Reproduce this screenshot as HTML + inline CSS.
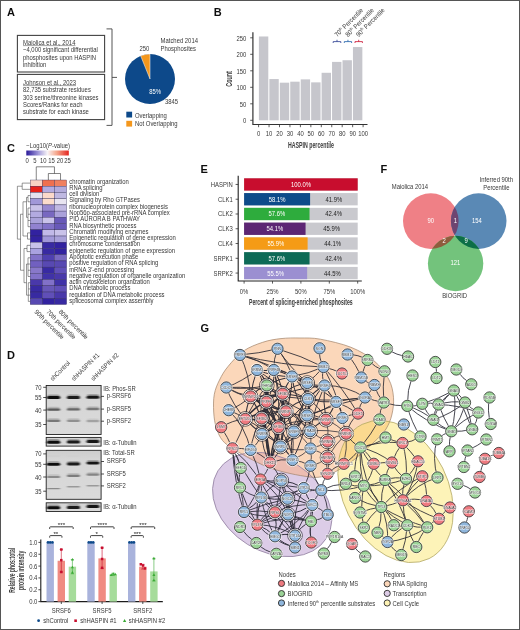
<!DOCTYPE html>
<html><head><meta charset="utf-8"><title>Figure</title>
<style>
html,body{margin:0;padding:0;background:#fff;}
body{width:520px;height:630px;overflow:hidden;font-family:"Liberation Sans",sans-serif;}
svg{display:block;font-family:"Liberation Sans",sans-serif;}
</style></head><body>
<svg width="520" height="630" viewBox="0 0 520 630" font-family="Liberation Sans, sans-serif">
<rect x="0" y="0" width="520" height="630" fill="#fff"/>
<defs><filter id="soft" x="0" y="0" width="520" height="630" filterUnits="userSpaceOnUse"><feGaussianBlur stdDeviation="0.32"/></filter></defs>
<g filter="url(#soft)">
<text transform="translate(7 15.8)" font-size="11" font-weight="bold" fill="#111">A</text>
<rect x="17.4" y="35.4" width="87.2" height="36.6" fill="#fff" stroke="#444" stroke-width="1.1"/>
<rect x="17.4" y="74.4" width="87.2" height="45.2" fill="#fff" stroke="#444" stroke-width="1.1"/>
<text transform="translate(23 45.0) scale(0.8950 1)" font-size="6.6" fill="#383838">Maiolica et al., 2014</text>
<text transform="translate(23 52.3) scale(0.8950 1)" font-size="6.6" fill="#383838">~4,000 significant differential</text>
<text transform="translate(23 59.5) scale(0.8950 1)" font-size="6.6" fill="#383838">phosphosites upon HASPIN</text>
<text transform="translate(23 66.8) scale(0.8950 1)" font-size="6.6" fill="#383838">inhibition</text>
<line x1="23" y1="45.6" x2="75.5" y2="45.6" stroke="#333" stroke-width="0.45"/>
<text transform="translate(23 85.0) scale(0.8950 1)" font-size="6.6" fill="#383838">Johnson et al., 2023</text>
<text transform="translate(23 92.3) scale(0.8950 1)" font-size="6.6" fill="#383838">82,735 substrate residues</text>
<text transform="translate(23 99.5) scale(0.8950 1)" font-size="6.6" fill="#383838">303 serine/threonine kinases</text>
<text transform="translate(23 106.8) scale(0.8950 1)" font-size="6.6" fill="#383838">Scores/Ranks for each</text>
<text transform="translate(23 114.2) scale(0.8950 1)" font-size="6.6" fill="#383838">substrate for each kinase</text>
<line x1="23" y1="85.6" x2="76" y2="85.6" stroke="#333" stroke-width="0.45"/>
<path d="M106.5 28.9 H112 V125.4 H106.5 M112 77.4 H117" fill="none" stroke="#444" stroke-width="0.9"/>
<circle cx="150" cy="79" r="25" fill="#0d4a8a"/>
<path d="M150 79 L140.63 55.82 A25 25 0 0 1 150 54 Z" fill="#f4971f" stroke="#fff" stroke-width="0.5"/>
<text transform="translate(139.5 51.2) scale(0.8950 1)" font-size="6.6" fill="#383838">250</text>
<text transform="translate(160.6 43.0) scale(0.8950 1)" font-size="6.6" fill="#383838">Matched 2014</text>
<text transform="translate(160.6 50.5) scale(0.8950 1)" font-size="6.6" fill="#383838">Phosphosites</text>
<text transform="translate(149.3 93.6) scale(0.8950 1)" font-size="6.6" fill="#fff">85%</text>
<text transform="translate(165 104.1) scale(0.8950 1)" font-size="6.6" fill="#383838">3845</text>
<rect x="126.3" y="111.7" width="5.8" height="5.8" fill="#0d4a8a"/>
<rect x="126.3" y="120.8" width="5.8" height="5.8" fill="#f4971f"/>
<text transform="translate(135 117.6) scale(0.8950 1)" font-size="6.6" fill="#383838">Overlapping</text>
<text transform="translate(135 126.3) scale(0.8950 1)" font-size="6.6" fill="#383838">Not Overlapping</text>
<text transform="translate(213.7 15.8)" font-size="11" font-weight="bold" fill="#111">B</text>
<rect x="258.90" y="36.48" width="9.4" height="83.82" fill="#c6c6cc"/>
<rect x="269.35" y="79.05" width="9.4" height="41.25" fill="#c6c6cc"/>
<rect x="279.80" y="82.68" width="9.4" height="37.62" fill="#c6c6cc"/>
<rect x="290.25" y="81.69" width="9.4" height="38.61" fill="#c6c6cc"/>
<rect x="300.70" y="79.38" width="9.4" height="40.92" fill="#c6c6cc"/>
<rect x="311.15" y="82.35" width="9.4" height="37.95" fill="#c6c6cc"/>
<rect x="321.60" y="72.78" width="9.4" height="47.52" fill="#c6c6cc"/>
<rect x="332.05" y="61.89" width="9.4" height="58.41" fill="#c6c6cc"/>
<rect x="342.50" y="60.24" width="9.4" height="60.06" fill="#c6c6cc"/>
<rect x="352.95" y="47.04" width="9.4" height="73.26" fill="#c6c6cc"/>
<path d="M252.9 32.2 V124.5 H367.5" fill="none" stroke="#333" stroke-width="1.2"/>
<line x1="250.2" y1="120.30" x2="252.9" y2="120.30" stroke="#333" stroke-width="0.8"/>
<text transform="translate(246.4 123.3) scale(0.8950 1)" font-size="6.6" text-anchor="end" fill="#383838">0</text>
<line x1="250.2" y1="103.80" x2="252.9" y2="103.80" stroke="#333" stroke-width="0.8"/>
<text transform="translate(246.4 106.8) scale(0.8950 1)" font-size="6.6" text-anchor="end" fill="#383838">50</text>
<line x1="250.2" y1="87.30" x2="252.9" y2="87.30" stroke="#333" stroke-width="0.8"/>
<text transform="translate(246.4 90.3) scale(0.8950 1)" font-size="6.6" text-anchor="end" fill="#383838">100</text>
<line x1="250.2" y1="70.80" x2="252.9" y2="70.80" stroke="#333" stroke-width="0.8"/>
<text transform="translate(246.4 73.8) scale(0.8950 1)" font-size="6.6" text-anchor="end" fill="#383838">150</text>
<line x1="250.2" y1="54.30" x2="252.9" y2="54.30" stroke="#333" stroke-width="0.8"/>
<text transform="translate(246.4 57.3) scale(0.8950 1)" font-size="6.6" text-anchor="end" fill="#383838">200</text>
<line x1="250.2" y1="37.80" x2="252.9" y2="37.80" stroke="#333" stroke-width="0.8"/>
<text transform="translate(246.4 40.8) scale(0.8950 1)" font-size="6.6" text-anchor="end" fill="#383838">250</text>
<line x1="258.60" y1="124.5" x2="258.60" y2="127.2" stroke="#333" stroke-width="0.8"/>
<text transform="translate(258.6 136.4) scale(0.8950 1)" font-size="6.6" text-anchor="middle" fill="#383838">0</text>
<line x1="269.05" y1="124.5" x2="269.05" y2="127.2" stroke="#333" stroke-width="0.8"/>
<text transform="translate(269.05 136.4) scale(0.8950 1)" font-size="6.6" text-anchor="middle" fill="#383838">10</text>
<line x1="279.50" y1="124.5" x2="279.50" y2="127.2" stroke="#333" stroke-width="0.8"/>
<text transform="translate(279.5 136.4) scale(0.8950 1)" font-size="6.6" text-anchor="middle" fill="#383838">20</text>
<line x1="289.95" y1="124.5" x2="289.95" y2="127.2" stroke="#333" stroke-width="0.8"/>
<text transform="translate(289.95 136.4) scale(0.8950 1)" font-size="6.6" text-anchor="middle" fill="#383838">30</text>
<line x1="300.40" y1="124.5" x2="300.40" y2="127.2" stroke="#333" stroke-width="0.8"/>
<text transform="translate(300.4 136.4) scale(0.8950 1)" font-size="6.6" text-anchor="middle" fill="#383838">40</text>
<line x1="310.85" y1="124.5" x2="310.85" y2="127.2" stroke="#333" stroke-width="0.8"/>
<text transform="translate(310.85 136.4) scale(0.8950 1)" font-size="6.6" text-anchor="middle" fill="#383838">50</text>
<line x1="321.30" y1="124.5" x2="321.30" y2="127.2" stroke="#333" stroke-width="0.8"/>
<text transform="translate(321.3 136.4) scale(0.8950 1)" font-size="6.6" text-anchor="middle" fill="#383838">60</text>
<line x1="331.75" y1="124.5" x2="331.75" y2="127.2" stroke="#333" stroke-width="0.8"/>
<text transform="translate(331.75 136.4) scale(0.8950 1)" font-size="6.6" text-anchor="middle" fill="#383838">70</text>
<line x1="342.20" y1="124.5" x2="342.20" y2="127.2" stroke="#333" stroke-width="0.8"/>
<text transform="translate(342.2 136.4) scale(0.8950 1)" font-size="6.6" text-anchor="middle" fill="#383838">80</text>
<line x1="352.65" y1="124.5" x2="352.65" y2="127.2" stroke="#333" stroke-width="0.8"/>
<text transform="translate(352.65 136.4) scale(0.8950 1)" font-size="6.6" text-anchor="middle" fill="#383838">90</text>
<line x1="363.10" y1="124.5" x2="363.10" y2="127.2" stroke="#333" stroke-width="0.8"/>
<text transform="translate(363.1 136.4) scale(0.8950 1)" font-size="6.6" text-anchor="middle" fill="#383838">100</text>
<text transform="translate(311 148) scale(0.6389 1)" font-size="8.2" text-anchor="middle" font-weight="bold" fill="#3a3a3a">HASPIN percentile</text>
<text transform="translate(232.2 79) rotate(-90) scale(0.6546 1)" font-size="8.2" text-anchor="middle" font-weight="bold" fill="#3a3a3a">Count</text>
<path d="M333.2 43 V41.6 H340.8 V43 M337.0 41.6 V39.8" fill="none" stroke="#2b3a8f" stroke-width="0.8"/>
<path d="M344.3 43 V41.6 H351.6 V43 M347.95000000000005 41.6 V39.8" fill="none" stroke="#1f5fa8" stroke-width="0.8"/>
<path d="M355 43 V41.6 H362.4 V43 M358.7 41.6 V39.8" fill="none" stroke="#c8102e" stroke-width="0.8"/>
<text transform="translate(337.2 37.2) rotate(-45) scale(0.8950 1)" font-size="6.6" fill="#383838">70<tspan font-size="4" dy="-2.4">th</tspan><tspan dy="2.4"> Percentile</tspan></text>
<text transform="translate(348 37.2) rotate(-45) scale(0.8950 1)" font-size="6.6" fill="#383838">80<tspan font-size="4" dy="-2.4">th</tspan><tspan dy="2.4"> Percentile</tspan></text>
<text transform="translate(358.7 37.2) rotate(-45) scale(0.8950 1)" font-size="6.6" fill="#383838">90<tspan font-size="4" dy="-2.4">th</tspan><tspan dy="2.4"> Percentile</tspan></text>
<text transform="translate(7 151.7)" font-size="11" font-weight="bold" fill="#111">C</text>
<defs><linearGradient id="cb" x1="0" x2="1" y1="0" y2="0"><stop offset="0" stop-color="#2a1a9a"/><stop offset="0.3" stop-color="#a8a0dc"/><stop offset="0.5" stop-color="#f7f3f6"/><stop offset="0.72" stop-color="#f5a58a"/><stop offset="1" stop-color="#e52420"/></linearGradient></defs>
<text transform="translate(26.2 148.0) scale(0.8950 1)" font-size="6.6" fill="#383838">−Log10(<tspan font-style="italic">P</tspan>-value)</text>
<rect x="26.3" y="150.5" width="42.5" height="5" fill="url(#cb)"/>
<text transform="translate(27.2 163.1) scale(0.8950 1)" font-size="6.6" text-anchor="middle" fill="#383838">0</text>
<text transform="translate(35 163.1) scale(0.8950 1)" font-size="6.6" text-anchor="middle" fill="#383838">5</text>
<text transform="translate(43.2 163.1) scale(0.8950 1)" font-size="6.6" text-anchor="middle" fill="#383838">10</text>
<text transform="translate(51.6 163.1) scale(0.8950 1)" font-size="6.6" text-anchor="middle" fill="#383838">15</text>
<text transform="translate(60 163.1) scale(0.8950 1)" font-size="6.6" text-anchor="middle" fill="#383838">20</text>
<text transform="translate(67.6 163.1) scale(0.8950 1)" font-size="6.6" text-anchor="middle" fill="#383838">25</text>
<rect x="30.20" y="180.00" width="12.13" height="6.22" fill="#f9d3c4" stroke="#2a2450" stroke-width="0.35"/>
<rect x="42.33" y="180.00" width="12.13" height="6.22" fill="#f0704f" stroke="#2a2450" stroke-width="0.35"/>
<rect x="54.46" y="180.00" width="12.13" height="6.22" fill="#f0805f" stroke="#2a2450" stroke-width="0.35"/>
<text transform="translate(69.2 183.6) scale(0.8950 1)" font-size="6.6" fill="#383838">chromatin organization</text>
<rect x="30.20" y="186.22" width="12.13" height="6.22" fill="#e6211f" stroke="#2a2450" stroke-width="0.35"/>
<rect x="42.33" y="186.22" width="12.13" height="6.22" fill="#b3abe0" stroke="#2a2450" stroke-width="0.35"/>
<rect x="54.46" y="186.22" width="12.13" height="6.22" fill="#b3abdc" stroke="#2a2450" stroke-width="0.35"/>
<text transform="translate(69.2 189.88) scale(0.8950 1)" font-size="6.6" fill="#383838">RNA splicing</text>
<rect x="30.20" y="192.45" width="12.13" height="6.22" fill="#e6e1f1" stroke="#2a2450" stroke-width="0.35"/>
<rect x="42.33" y="192.45" width="12.13" height="6.22" fill="#fbd9ca" stroke="#2a2450" stroke-width="0.35"/>
<rect x="54.46" y="192.45" width="12.13" height="6.22" fill="#bfb8e2" stroke="#2a2450" stroke-width="0.35"/>
<text transform="translate(69.2 196.16) scale(0.8950 1)" font-size="6.6" fill="#383838">cell division</text>
<rect x="30.20" y="198.68" width="12.13" height="6.22" fill="#a198d8" stroke="#2a2450" stroke-width="0.35"/>
<rect x="42.33" y="198.68" width="12.13" height="6.22" fill="#fbdccb" stroke="#2a2450" stroke-width="0.35"/>
<rect x="54.46" y="198.68" width="12.13" height="6.22" fill="#e8e4f1" stroke="#2a2450" stroke-width="0.35"/>
<text transform="translate(69.2 202.44) scale(0.8950 1)" font-size="6.6" fill="#383838">Signaling by Rho GTPases</text>
<rect x="30.20" y="204.90" width="12.13" height="6.22" fill="#c9c2e8" stroke="#2a2450" stroke-width="0.35"/>
<rect x="42.33" y="204.90" width="12.13" height="6.22" fill="#9789d0" stroke="#2a2450" stroke-width="0.35"/>
<rect x="54.46" y="204.90" width="12.13" height="6.22" fill="#c1b9e3" stroke="#2a2450" stroke-width="0.35"/>
<text transform="translate(69.2 208.72) scale(0.8950 1)" font-size="6.6" fill="#383838">ribonucleoprotein complex biogenesis</text>
<rect x="30.20" y="211.12" width="12.13" height="6.22" fill="#b2aae0" stroke="#2a2450" stroke-width="0.35"/>
<rect x="42.33" y="211.12" width="12.13" height="6.22" fill="#7868c0" stroke="#2a2450" stroke-width="0.35"/>
<rect x="54.46" y="211.12" width="12.13" height="6.22" fill="#aaa1da" stroke="#2a2450" stroke-width="0.35"/>
<text transform="translate(69.2 215.0) scale(0.8950 1)" font-size="6.6" fill="#383838">Nop56p-associated pre-rRNA complex</text>
<rect x="30.20" y="217.35" width="12.13" height="6.22" fill="#a9a1da" stroke="#2a2450" stroke-width="0.35"/>
<rect x="42.33" y="217.35" width="12.13" height="6.22" fill="#c9c2e9" stroke="#2a2450" stroke-width="0.35"/>
<rect x="54.46" y="217.35" width="12.13" height="6.22" fill="#6858b8" stroke="#2a2450" stroke-width="0.35"/>
<text transform="translate(69.2 221.28) scale(0.8950 1)" font-size="6.6" fill="#383838">PID AURORA B PATHWAY</text>
<rect x="30.20" y="223.57" width="12.13" height="6.22" fill="#9182d0" stroke="#2a2450" stroke-width="0.35"/>
<rect x="42.33" y="223.57" width="12.13" height="6.22" fill="#8171c8" stroke="#2a2450" stroke-width="0.35"/>
<rect x="54.46" y="223.57" width="12.13" height="6.22" fill="#6858b8" stroke="#2a2450" stroke-width="0.35"/>
<text transform="translate(69.2 227.56) scale(0.8950 1)" font-size="6.6" fill="#383838">RNA biosynthetic process</text>
<rect x="30.20" y="229.80" width="12.13" height="6.22" fill="#3121a0" stroke="#2a2450" stroke-width="0.35"/>
<rect x="42.33" y="229.80" width="12.13" height="6.22" fill="#c1b9e8" stroke="#2a2450" stroke-width="0.35"/>
<rect x="54.46" y="229.80" width="12.13" height="6.22" fill="#c9c2e9" stroke="#2a2450" stroke-width="0.35"/>
<text transform="translate(69.2 233.84) scale(0.8950 1)" font-size="6.6" fill="#383838">Chromatin modifying enzymes</text>
<rect x="30.20" y="236.03" width="12.13" height="6.22" fill="#3121a0" stroke="#2a2450" stroke-width="0.35"/>
<rect x="42.33" y="236.03" width="12.13" height="6.22" fill="#a198d8" stroke="#2a2450" stroke-width="0.35"/>
<rect x="54.46" y="236.03" width="12.13" height="6.22" fill="#a9a1d9" stroke="#2a2450" stroke-width="0.35"/>
<text transform="translate(69.2 240.12) scale(0.8950 1)" font-size="6.6" fill="#383838">Epigenetic regulation of gene expression</text>
<rect x="30.20" y="242.25" width="12.13" height="6.22" fill="#c9c2e9" stroke="#2a2450" stroke-width="0.35"/>
<rect x="42.33" y="242.25" width="12.13" height="6.22" fill="#3929a2" stroke="#2a2450" stroke-width="0.35"/>
<rect x="54.46" y="242.25" width="12.13" height="6.22" fill="#3121a0" stroke="#2a2450" stroke-width="0.35"/>
<text transform="translate(69.2 246.4) scale(0.8950 1)" font-size="6.6" fill="#383838">chromosome condensation</text>
<rect x="30.20" y="248.47" width="12.13" height="6.22" fill="#a9a1e0" stroke="#2a2450" stroke-width="0.35"/>
<rect x="42.33" y="248.47" width="12.13" height="6.22" fill="#3929a2" stroke="#2a2450" stroke-width="0.35"/>
<rect x="54.46" y="248.47" width="12.13" height="6.22" fill="#3121a0" stroke="#2a2450" stroke-width="0.35"/>
<text transform="translate(69.2 252.68) scale(0.8950 1)" font-size="6.6" fill="#383838">epigenetic regulation of gene expression</text>
<rect x="30.20" y="254.70" width="12.13" height="6.22" fill="#8171c8" stroke="#2a2450" stroke-width="0.35"/>
<rect x="42.33" y="254.70" width="12.13" height="6.22" fill="#5040b0" stroke="#2a2450" stroke-width="0.35"/>
<rect x="54.46" y="254.70" width="12.13" height="6.22" fill="#7868c0" stroke="#2a2450" stroke-width="0.35"/>
<text transform="translate(69.2 258.96) scale(0.8950 1)" font-size="6.6" fill="#383838">Apoptotic execution phase</text>
<rect x="30.20" y="260.93" width="12.13" height="6.22" fill="#7161c0" stroke="#2a2450" stroke-width="0.35"/>
<rect x="42.33" y="260.93" width="12.13" height="6.22" fill="#5848b2" stroke="#2a2450" stroke-width="0.35"/>
<rect x="54.46" y="260.93" width="12.13" height="6.22" fill="#5848b2" stroke="#2a2450" stroke-width="0.35"/>
<text transform="translate(69.2 265.24) scale(0.8950 1)" font-size="6.6" fill="#383838">positive regulation of RNA splicing</text>
<rect x="30.20" y="267.15" width="12.13" height="6.22" fill="#8878c9" stroke="#2a2450" stroke-width="0.35"/>
<rect x="42.33" y="267.15" width="12.13" height="6.22" fill="#3929a2" stroke="#2a2450" stroke-width="0.35"/>
<rect x="54.46" y="267.15" width="12.13" height="6.22" fill="#6050b8" stroke="#2a2450" stroke-width="0.35"/>
<text transform="translate(69.2 271.52) scale(0.8950 1)" font-size="6.6" fill="#383838">mRNA 3′-end processing</text>
<rect x="30.20" y="273.38" width="12.13" height="6.22" fill="#8171c8" stroke="#2a2450" stroke-width="0.35"/>
<rect x="42.33" y="273.38" width="12.13" height="6.22" fill="#4131a8" stroke="#2a2450" stroke-width="0.35"/>
<rect x="54.46" y="273.38" width="12.13" height="6.22" fill="#4939aa" stroke="#2a2450" stroke-width="0.35"/>
<text transform="translate(69.2 277.8) scale(0.8950 1)" font-size="6.6" fill="#383838">negative regulation of organelle organization</text>
<rect x="30.20" y="279.60" width="12.13" height="6.22" fill="#4939aa" stroke="#2a2450" stroke-width="0.35"/>
<rect x="42.33" y="279.60" width="12.13" height="6.22" fill="#8171c8" stroke="#2a2450" stroke-width="0.35"/>
<rect x="54.46" y="279.60" width="12.13" height="6.22" fill="#4131a8" stroke="#2a2450" stroke-width="0.35"/>
<text transform="translate(69.2 284.08) scale(0.8950 1)" font-size="6.6" fill="#383838">actin cytoskeleton organization</text>
<rect x="30.20" y="285.82" width="12.13" height="6.22" fill="#3929a2" stroke="#2a2450" stroke-width="0.35"/>
<rect x="42.33" y="285.82" width="12.13" height="6.22" fill="#6858b8" stroke="#2a2450" stroke-width="0.35"/>
<rect x="54.46" y="285.82" width="12.13" height="6.22" fill="#6050b8" stroke="#2a2450" stroke-width="0.35"/>
<text transform="translate(69.2 290.36) scale(0.8950 1)" font-size="6.6" fill="#383838">DNA metabolic process</text>
<rect x="30.20" y="292.05" width="12.13" height="6.22" fill="#3929a2" stroke="#2a2450" stroke-width="0.35"/>
<rect x="42.33" y="292.05" width="12.13" height="6.22" fill="#6050b8" stroke="#2a2450" stroke-width="0.35"/>
<rect x="54.46" y="292.05" width="12.13" height="6.22" fill="#4939aa" stroke="#2a2450" stroke-width="0.35"/>
<text transform="translate(69.2 296.64) scale(0.8950 1)" font-size="6.6" fill="#383838">regulation of DNA metabolic process</text>
<rect x="30.20" y="298.27" width="12.13" height="6.22" fill="#5848b2" stroke="#2a2450" stroke-width="0.35"/>
<rect x="42.33" y="298.27" width="12.13" height="6.22" fill="#3121a0" stroke="#2a2450" stroke-width="0.35"/>
<rect x="54.46" y="298.27" width="12.13" height="6.22" fill="#3929a2" stroke="#2a2450" stroke-width="0.35"/>
<text transform="translate(69.2 302.92) scale(0.8950 1)" font-size="6.6" fill="#383838">spliceosomal complex assembly</text>
<path d="M36.27 180 V166.8 H54.46 V173.5 M48.39 180 V173.5 H60.53 V180" fill="none" stroke="#333" stroke-width="0.6"/>
<path d="M30.2 183.11 H22.2 V189.34 H30.2 M22.2 186.22 H17.4 V239.14 M17.4 239.14 H20.5 M20.5 214.24 V270.26 M20.5 214.24 H23 V201.79 H26.5 M23 214.24 V236.03 H27.5 V232.91 H30.2 M27.5 236.03 V239.14 H30.2 M26.5 197.43 V217.35 M26.5 197.43 H28 V195.56 H30.2 M28 197.43 V201.79 H30.2 M26.5 217.35 H28 V208.01 H30.2 M28 214.24 H30.2 M28 217.35 V226.69 H30.2 M28 220.46 H30.2 M20.5 270.26 H24 V248.47 H27 V245.36 H30.2 M27 248.47 V251.59 H30.2 M24 270.26 V282.71 H26.5 V264.04 H28 V257.81 H30.2 M28 264.04 V276.49 H30.2 M28 264.04 H30.2 M28 270.26 H30.2 M26.5 282.71 V295.16 H28.3 V282.71 H30.2 M28.3 288.94 H30.2 M28.3 295.16 V301.39 H30.2 M28.3 295.16 H30.2" fill="none" stroke="#333" stroke-width="0.5"/>
<text transform="translate(34.1 312.3) rotate(45) scale(0.8950 1)" font-size="6.6" fill="#383838">90th percentile</text>
<text transform="translate(45.9 312.3) rotate(45) scale(0.8950 1)" font-size="6.6" fill="#383838">70th percentile</text>
<text transform="translate(58.3 312.3) rotate(45) scale(0.8950 1)" font-size="6.6" fill="#383838">80th percentile</text>
<text transform="translate(200.5 173.3)" font-size="11" font-weight="bold" fill="#111">E</text>
<rect x="244.1" y="178.30" width="113.6" height="12.3" fill="#c9c9ce"/>
<rect x="244.1" y="178.30" width="113.60" height="12.3" fill="#c8102e"/>
<text transform="translate(232.8 186.95) scale(0.8950 1)" font-size="6.6" text-anchor="end" fill="#383838">HASPIN</text>
<line x1="235.6" y1="184.45" x2="238.2" y2="184.45" stroke="#333" stroke-width="0.8"/>
<text transform="translate(300.9 186.95) scale(0.8950 1)" font-size="6.6" text-anchor="middle" fill="#fff">100.0%</text>
<rect x="244.1" y="193.07" width="113.6" height="12.3" fill="#c9c9ce"/>
<rect x="244.1" y="193.07" width="66.00" height="12.3" fill="#0f4c8a"/>
<text transform="translate(232.8 201.72) scale(0.8950 1)" font-size="6.6" text-anchor="end" fill="#383838">CLK1</text>
<line x1="235.6" y1="199.22" x2="238.2" y2="199.22" stroke="#333" stroke-width="0.8"/>
<text transform="translate(277.1 201.72) scale(0.8950 1)" font-size="6.6" text-anchor="middle" fill="#fff">58.1%</text>
<text transform="translate(333.9 201.72) scale(0.8950 1)" font-size="6.6" text-anchor="middle" fill="#222">41.9%</text>
<rect x="244.1" y="207.84" width="113.6" height="12.3" fill="#c9c9ce"/>
<rect x="244.1" y="207.84" width="65.43" height="12.3" fill="#2fac3c"/>
<text transform="translate(232.8 216.49) scale(0.8950 1)" font-size="6.6" text-anchor="end" fill="#383838">CLK2</text>
<line x1="235.6" y1="213.99" x2="238.2" y2="213.99" stroke="#333" stroke-width="0.8"/>
<text transform="translate(276.82 216.49) scale(0.8950 1)" font-size="6.6" text-anchor="middle" fill="#fff">57.6%</text>
<text transform="translate(333.62 216.49) scale(0.8950 1)" font-size="6.6" text-anchor="middle" fill="#222">42.4%</text>
<rect x="244.1" y="222.61" width="113.6" height="12.3" fill="#c9c9ce"/>
<rect x="244.1" y="222.61" width="61.46" height="12.3" fill="#5c2573"/>
<text transform="translate(232.8 231.26) scale(0.8950 1)" font-size="6.6" text-anchor="end" fill="#383838">CLK3</text>
<line x1="235.6" y1="228.76" x2="238.2" y2="228.76" stroke="#333" stroke-width="0.8"/>
<text transform="translate(274.83 231.26) scale(0.8950 1)" font-size="6.6" text-anchor="middle" fill="#fff">54.1%</text>
<text transform="translate(331.63 231.26) scale(0.8950 1)" font-size="6.6" text-anchor="middle" fill="#222">45.9%</text>
<rect x="244.1" y="237.38" width="113.6" height="12.3" fill="#c9c9ce"/>
<rect x="244.1" y="237.38" width="63.50" height="12.3" fill="#f59b13"/>
<text transform="translate(232.8 246.03) scale(0.8950 1)" font-size="6.6" text-anchor="end" fill="#383838">CLK4</text>
<line x1="235.6" y1="243.53" x2="238.2" y2="243.53" stroke="#333" stroke-width="0.8"/>
<text transform="translate(275.85 246.03) scale(0.8950 1)" font-size="6.6" text-anchor="middle" fill="#fff">55.9%</text>
<text transform="translate(332.65 246.03) scale(0.8950 1)" font-size="6.6" text-anchor="middle" fill="#222">44.1%</text>
<rect x="244.1" y="252.15" width="113.6" height="12.3" fill="#c9c9ce"/>
<rect x="244.1" y="252.15" width="65.43" height="12.3" fill="#0d6b57"/>
<text transform="translate(232.8 260.8) scale(0.8950 1)" font-size="6.6" text-anchor="end" fill="#383838">SRPK1</text>
<line x1="235.6" y1="258.30" x2="238.2" y2="258.30" stroke="#333" stroke-width="0.8"/>
<text transform="translate(276.82 260.8) scale(0.8950 1)" font-size="6.6" text-anchor="middle" fill="#fff">57.6%</text>
<text transform="translate(333.62 260.8) scale(0.8950 1)" font-size="6.6" text-anchor="middle" fill="#222">42.4%</text>
<rect x="244.1" y="266.92" width="113.6" height="12.3" fill="#c9c9ce"/>
<rect x="244.1" y="266.92" width="63.05" height="12.3" fill="#9b8fd1"/>
<text transform="translate(232.8 275.57) scale(0.8950 1)" font-size="6.6" text-anchor="end" fill="#383838">SRPK2</text>
<line x1="235.6" y1="273.07" x2="238.2" y2="273.07" stroke="#333" stroke-width="0.8"/>
<text transform="translate(275.62 275.57) scale(0.8950 1)" font-size="6.6" text-anchor="middle" fill="#fff">55.5%</text>
<text transform="translate(332.42 275.57) scale(0.8950 1)" font-size="6.6" text-anchor="middle" fill="#222">44.5%</text>
<path d="M238.2 175.8 V281 H361.8" fill="none" stroke="#222" stroke-width="1.1"/>
<line x1="244.10" y1="281" x2="244.10" y2="283.6" stroke="#333" stroke-width="0.8"/>
<text transform="translate(244.1 293.7) scale(0.8950 1)" font-size="6.6" text-anchor="middle" fill="#383838">0%</text>
<line x1="272.50" y1="281" x2="272.50" y2="283.6" stroke="#333" stroke-width="0.8"/>
<text transform="translate(272.5 293.7) scale(0.8950 1)" font-size="6.6" text-anchor="middle" fill="#383838">25%</text>
<line x1="300.90" y1="281" x2="300.90" y2="283.6" stroke="#333" stroke-width="0.8"/>
<text transform="translate(300.9 293.7) scale(0.8950 1)" font-size="6.6" text-anchor="middle" fill="#383838">50%</text>
<line x1="329.30" y1="281" x2="329.30" y2="283.6" stroke="#333" stroke-width="0.8"/>
<text transform="translate(329.3 293.7) scale(0.8950 1)" font-size="6.6" text-anchor="middle" fill="#383838">75%</text>
<line x1="357.70" y1="281" x2="357.70" y2="283.6" stroke="#333" stroke-width="0.8"/>
<text transform="translate(357.7 293.7) scale(0.8950 1)" font-size="6.6" text-anchor="middle" fill="#383838">100%</text>
<text transform="translate(300.8 305) scale(0.6253 1)" font-size="8.2" text-anchor="middle" font-weight="bold" fill="#3a3a3a">Percent of splicing-enriched phosphosites</text>
<text transform="translate(380.6 173)" font-size="11" font-weight="bold" fill="#111">F</text>
<defs><clipPath id="vR"><circle cx="430.8" cy="221.1" r="27.8"/></clipPath><clipPath id="vB"><circle cx="478.7" cy="221.1" r="27.8"/></clipPath></defs>
<circle cx="430.8" cy="221.1" r="27.8" fill="#ef8086"/>
<circle cx="478.7" cy="221.1" r="27.8" fill="#5a89b5"/>
<circle cx="455.6" cy="263.5" r="27.7" fill="#73c37c"/>
<circle cx="478.7" cy="221.1" r="27.8" fill="#6e4571" clip-path="url(#vR)"/>
<circle cx="455.6" cy="263.5" r="27.7" fill="#8f5c3c" clip-path="url(#vR)"/>
<circle cx="455.6" cy="263.5" r="27.7" fill="#0b6e47" clip-path="url(#vB)"/>
<text transform="translate(409.9 189.0) scale(0.8950 1)" font-size="6.6" text-anchor="middle" fill="#383838">Maiolica 2014</text>
<text transform="translate(496.3 182.0) scale(0.8950 1)" font-size="6.6" text-anchor="middle" fill="#383838">Inferred 90th</text>
<text transform="translate(496.3 189.5) scale(0.8950 1)" font-size="6.6" text-anchor="middle" fill="#383838">Percentile</text>
<text transform="translate(454.6 298.3) scale(0.8950 1)" font-size="6.6" text-anchor="middle" fill="#383838">BIOGRID</text>
<text transform="translate(430.8 223.3) scale(0.8950 1)" font-size="6.6" text-anchor="middle" fill="#fff">90</text>
<text transform="translate(455.3 223.3) scale(0.8950 1)" font-size="6.6" text-anchor="middle" fill="#fff">1</text>
<text transform="translate(476.8 222.6) scale(0.8950 1)" font-size="6.6" text-anchor="middle" fill="#fff">154</text>
<text transform="translate(444.2 243.4) scale(0.8950 1)" font-size="6.6" text-anchor="middle" fill="#fff">2</text>
<text transform="translate(466.2 243.4) scale(0.8950 1)" font-size="6.6" text-anchor="middle" fill="#fff">9</text>
<text transform="translate(455.3 265.1) scale(0.8950 1)" font-size="6.6" text-anchor="middle" fill="#fff">121</text>
<text transform="translate(7.1 358.8)" font-size="11" font-weight="bold" fill="#111">D</text>
<defs><filter id="bl" x="-20%" y="-100%" width="140%" height="300%"><feGaussianBlur stdDeviation="0.85 0.6"/></filter><linearGradient id="bg1" x1="0" x2="0" y1="0" y2="1"><stop offset="0" stop-color="#cdcdcd"/><stop offset="0.2" stop-color="#d6d6d6"/><stop offset="1" stop-color="#dadada"/></linearGradient></defs>
<rect x="46.2" y="385.5" width="54.9" height="49.0" fill="url(#bg1)"/><g filter="url(#bl)"><rect x="47.3" y="394.40" width="12.40" height="4.2" rx="1.5" fill="#111" opacity="0.28"/><rect x="46.8" y="396.00" width="13.40" height="3.0" rx="1.5" fill="#111"/><rect x="67.4" y="394.40" width="12.10" height="4.2" rx="1.5" fill="#1c1c1c" opacity="0.28"/><rect x="66.9" y="396.00" width="13.10" height="3.0" rx="1.5" fill="#1c1c1c"/><rect x="87.0" y="394.10" width="11.90" height="4.2" rx="1.5" fill="#181818" opacity="0.28"/><rect x="86.5" y="395.70" width="12.90" height="3.0" rx="1.5" fill="#181818"/><rect x="47.3" y="406.80" width="12.40" height="3.5999999999999996" rx="1.5" fill="#5a5a5a" opacity="0.28"/><rect x="46.8" y="408.40" width="13.40" height="2.4" rx="1.2" fill="#5a5a5a"/><rect x="67.4" y="406.60" width="12.10" height="3.5999999999999996" rx="1.5" fill="#686868" opacity="0.28"/><rect x="66.9" y="408.20" width="13.10" height="2.4" rx="1.2" fill="#686868"/><rect x="87.0" y="406.20" width="11.90" height="3.5999999999999996" rx="1.5" fill="#777" opacity="0.28"/><rect x="86.5" y="407.80" width="12.90" height="2.4" rx="1.2" fill="#777"/><rect x="47.3" y="418.10" width="12.40" height="3.4000000000000004" rx="1.5" fill="#777" opacity="0.28"/><rect x="46.8" y="419.70" width="13.40" height="2.2" rx="1.1" fill="#777"/><rect x="67.4" y="418.10" width="12.10" height="3.4000000000000004" rx="1.5" fill="#909090" opacity="0.28"/><rect x="66.9" y="419.70" width="13.10" height="2.2" rx="1.1" fill="#909090"/><rect x="87.0" y="418.40" width="11.90" height="3.4000000000000004" rx="1.5" fill="#a2a2a2" opacity="0.28"/><rect x="86.5" y="420.00" width="12.90" height="2.2" rx="1.1" fill="#a2a2a2"/></g><rect x="46.2" y="385.5" width="54.9" height="49.0" fill="none" stroke="#222" stroke-width="0.9"/>
<rect x="46.2" y="437.4" width="54.9" height="8.700000000000045" fill="url(#bg1)"/><g filter="url(#bl)"><rect x="47.3" y="439.10" width="12.40" height="4.2" rx="1.5" fill="#111" opacity="0.28"/><rect x="46.8" y="440.70" width="13.40" height="3.0" rx="1.5" fill="#111"/><rect x="67.4" y="438.90" width="12.10" height="4.2" rx="1.5" fill="#1a1a1a" opacity="0.28"/><rect x="66.9" y="440.50" width="13.10" height="3.0" rx="1.5" fill="#1a1a1a"/><rect x="87.0" y="438.40" width="11.90" height="4.2" rx="1.5" fill="#151515" opacity="0.28"/><rect x="86.5" y="440.00" width="12.90" height="3.0" rx="1.5" fill="#151515"/></g><rect x="46.2" y="437.4" width="54.9" height="8.700000000000045" fill="none" stroke="#222" stroke-width="0.9"/>
<rect x="46.2" y="450.3" width="54.9" height="49.0" fill="url(#bg1)"/><g filter="url(#bl)"><rect x="47.3" y="461.30" width="12.40" height="4.0" rx="1.5" fill="#111" opacity="0.28"/><rect x="46.8" y="462.90" width="13.40" height="2.8" rx="1.4" fill="#111"/><rect x="67.4" y="461.00" width="12.10" height="4.0" rx="1.5" fill="#1c1c1c" opacity="0.28"/><rect x="66.9" y="462.60" width="13.10" height="2.8" rx="1.4" fill="#1c1c1c"/><rect x="87.0" y="460.10" width="11.90" height="4.0" rx="1.5" fill="#151515" opacity="0.28"/><rect x="86.5" y="461.70" width="12.90" height="2.8" rx="1.4" fill="#151515"/><rect x="47.3" y="474.30" width="12.40" height="3.4000000000000004" rx="1.5" fill="#8a8a8a" opacity="0.28"/><rect x="46.8" y="475.90" width="13.40" height="2.2" rx="1.1" fill="#8a8a8a"/><rect x="67.4" y="473.10" width="12.10" height="3.4000000000000004" rx="1.5" fill="#7c7c7c" opacity="0.28"/><rect x="66.9" y="474.70" width="13.10" height="2.2" rx="1.1" fill="#7c7c7c"/><rect x="87.0" y="471.90" width="11.90" height="3.4000000000000004" rx="1.5" fill="#858585" opacity="0.28"/><rect x="86.5" y="473.50" width="12.90" height="2.2" rx="1.1" fill="#858585"/><rect x="46.8" y="487.90" width="13.40" height="1.4" rx="0.7" fill="#8a8a8a"/><rect x="66.9" y="486.10" width="13.10" height="1.4" rx="0.7" fill="#999"/><rect x="86.5" y="485.00" width="12.90" height="1.4" rx="0.7" fill="#9a9a9a"/><rect x="46.8" y="455.00" width="13.40" height="2" rx="1.0" fill="#cfcfcf"/><rect x="66.9" y="455.00" width="13.10" height="2" rx="1.0" fill="#d0d0d0"/><rect x="86.5" y="455.00" width="12.90" height="2" rx="1.0" fill="#d2d2d2"/></g><rect x="46.2" y="450.3" width="54.9" height="49.0" fill="none" stroke="#222" stroke-width="0.9"/>
<rect x="46.2" y="502.8" width="54.9" height="8.699999999999989" fill="url(#bg1)"/><g filter="url(#bl)"><rect x="47.3" y="504.60" width="12.40" height="4.2" rx="1.5" fill="#111" opacity="0.28"/><rect x="46.8" y="506.20" width="13.40" height="3.0" rx="1.5" fill="#111"/><rect x="67.4" y="504.30" width="12.10" height="4.2" rx="1.5" fill="#1a1a1a" opacity="0.28"/><rect x="66.9" y="505.90" width="13.10" height="3.0" rx="1.5" fill="#1a1a1a"/><rect x="87.0" y="503.50" width="11.90" height="4.2" rx="1.5" fill="#151515" opacity="0.28"/><rect x="86.5" y="505.10" width="12.90" height="3.0" rx="1.5" fill="#151515"/></g><rect x="46.2" y="502.8" width="54.9" height="8.699999999999989" fill="none" stroke="#222" stroke-width="0.9"/>
<text transform="translate(41.6 389.8) scale(0.8950 1)" font-size="6.6" text-anchor="end" fill="#383838">70</text>
<line x1="43.2" y1="387.3" x2="46.2" y2="387.3" stroke="#222" stroke-width="0.8"/>
<text transform="translate(41.6 400.0) scale(0.8950 1)" font-size="6.6" text-anchor="end" fill="#383838">55</text>
<line x1="43.2" y1="397.5" x2="46.2" y2="397.5" stroke="#222" stroke-width="0.8"/>
<text transform="translate(41.6 412.6) scale(0.8950 1)" font-size="6.6" text-anchor="end" fill="#383838">40</text>
<line x1="43.2" y1="410.1" x2="46.2" y2="410.1" stroke="#222" stroke-width="0.8"/>
<text transform="translate(41.6 427.0) scale(0.8950 1)" font-size="6.6" text-anchor="end" fill="#383838">35</text>
<line x1="43.2" y1="424.5" x2="46.2" y2="424.5" stroke="#222" stroke-width="0.8"/>
<text transform="translate(41.6 456.4) scale(0.8950 1)" font-size="6.6" text-anchor="end" fill="#383838">70</text>
<line x1="43.2" y1="453.9" x2="46.2" y2="453.9" stroke="#222" stroke-width="0.8"/>
<text transform="translate(41.6 466.8) scale(0.8950 1)" font-size="6.6" text-anchor="end" fill="#383838">55</text>
<line x1="43.2" y1="464.3" x2="46.2" y2="464.3" stroke="#222" stroke-width="0.8"/>
<text transform="translate(41.6 479.5) scale(0.8950 1)" font-size="6.6" text-anchor="end" fill="#383838">40</text>
<line x1="43.2" y1="477" x2="46.2" y2="477" stroke="#222" stroke-width="0.8"/>
<text transform="translate(41.6 493.7) scale(0.8950 1)" font-size="6.6" text-anchor="end" fill="#383838">35</text>
<line x1="43.2" y1="491.2" x2="46.2" y2="491.2" stroke="#222" stroke-width="0.8"/>
<text transform="translate(103.3 390.5) scale(0.8950 1)" font-size="6.6" fill="#383838">IB: Phos-SR</text>
<text transform="translate(103.3 444.7) scale(0.8950 1)" font-size="6.6" fill="#383838">IB: α-Tubulin</text>
<text transform="translate(103.3 455.3) scale(0.8950 1)" font-size="6.6" fill="#383838">IB: Total-SR</text>
<text transform="translate(103.3 508.9) scale(0.8950 1)" font-size="6.6" fill="#383838">IB: α-Tubulin</text>
<text transform="translate(106.8 398.3) scale(0.8950 1)" font-size="6.6" fill="#383838">p-SRSF6</text>
<line x1="101.1" y1="396.40000000000003" x2="104" y2="396.40000000000003" stroke="#222" stroke-width="0.8"/>
<text transform="translate(106.8 411.0) scale(0.8950 1)" font-size="6.6" fill="#383838">p-SRSF5</text>
<line x1="101.1" y1="409.1" x2="104" y2="409.1" stroke="#222" stroke-width="0.8"/>
<text transform="translate(106.8 423.1) scale(0.8950 1)" font-size="6.6" fill="#383838">p-SRSF2</text>
<line x1="101.1" y1="421.20000000000005" x2="104" y2="421.20000000000005" stroke="#222" stroke-width="0.8"/>
<text transform="translate(106.8 463.4) scale(0.8950 1)" font-size="6.6" fill="#383838">SRSF6</text>
<line x1="101.1" y1="461.5" x2="104" y2="461.5" stroke="#222" stroke-width="0.8"/>
<text transform="translate(106.8 475.9) scale(0.8950 1)" font-size="6.6" fill="#383838">SRSF5</text>
<line x1="101.1" y1="474.0" x2="104" y2="474.0" stroke="#222" stroke-width="0.8"/>
<text transform="translate(106.8 487.8) scale(0.8950 1)" font-size="6.6" fill="#383838">SRSF2</text>
<line x1="101.1" y1="485.90000000000003" x2="104" y2="485.90000000000003" stroke="#222" stroke-width="0.8"/>
<text transform="translate(52.7 381.3) rotate(-45) scale(0.8950 1)" font-size="6.6" fill="#383838">shControl</text>
<text transform="translate(74 381.3) rotate(-45) scale(0.8950 1)" font-size="6.6" fill="#383838">shHASPIN #1</text>
<text transform="translate(93.4 381.3) rotate(-45) scale(0.8950 1)" font-size="6.6" fill="#383838">shHASPIN #2</text>
<path d="M40.8 539.5 V601.6 H162.8" fill="none" stroke="#1c1c1c" stroke-width="1.1"/>
<line x1="38.4" y1="601.60" x2="40.8" y2="601.60" stroke="#222" stroke-width="0.8"/>
<text transform="translate(37.4 604.1) scale(0.8950 1)" font-size="6.6" text-anchor="end" fill="#383838">0.0</text>
<line x1="38.4" y1="589.76" x2="40.8" y2="589.76" stroke="#222" stroke-width="0.8"/>
<text transform="translate(37.4 592.26) scale(0.8950 1)" font-size="6.6" text-anchor="end" fill="#383838">0.2</text>
<line x1="38.4" y1="577.92" x2="40.8" y2="577.92" stroke="#222" stroke-width="0.8"/>
<text transform="translate(37.4 580.42) scale(0.8950 1)" font-size="6.6" text-anchor="end" fill="#383838">0.4</text>
<line x1="38.4" y1="566.08" x2="40.8" y2="566.08" stroke="#222" stroke-width="0.8"/>
<text transform="translate(37.4 568.58) scale(0.8950 1)" font-size="6.6" text-anchor="end" fill="#383838">0.6</text>
<line x1="38.4" y1="554.24" x2="40.8" y2="554.24" stroke="#222" stroke-width="0.8"/>
<text transform="translate(37.4 556.74) scale(0.8950 1)" font-size="6.6" text-anchor="end" fill="#383838">0.8</text>
<line x1="38.4" y1="542.40" x2="40.8" y2="542.40" stroke="#222" stroke-width="0.8"/>
<text transform="translate(37.4 544.9) scale(0.8950 1)" font-size="6.6" text-anchor="end" fill="#383838">1.0</text>
<rect x="46.50" y="542.40" width="7.4" height="59.20" fill="#a9b3dc"/>
<circle cx="48.00" cy="542.40" r="1.35" fill="#0d4a8a"/>
<circle cx="50.20" cy="542.40" r="1.35" fill="#0d4a8a"/>
<circle cx="52.40" cy="542.40" r="1.35" fill="#0d4a8a"/>
<rect x="57.60" y="560.75" width="7.4" height="40.85" fill="#f08b82"/>
<path d="M61.30 572.00 V549.50 M59.70 572.00 h3.2 M59.70 549.50 h3.2" stroke="#c8102e" stroke-width="0.6" fill="none"/>
<rect x="60.05" y="548.25" width="2.5" height="2.5" fill="#c8102e"/>
<rect x="60.05" y="558.91" width="2.5" height="2.5" fill="#c8102e"/>
<rect x="60.05" y="570.75" width="2.5" height="2.5" fill="#c8102e"/>
<rect x="68.70" y="566.67" width="7.4" height="34.93" fill="#a6dc9b"/>
<path d="M72.40 573.78 V559.57 M70.80 573.78 h3.2 M70.80 559.57 h3.2" stroke="#3aaa35" stroke-width="0.6" fill="none"/>
<path d="M72.40 557.97 l1.5 2.6 h-3 Z" fill="#3aaa35"/>
<path d="M72.40 565.66 l1.5 2.6 h-3 Z" fill="#3aaa35"/>
<path d="M72.40 570.99 l1.5 2.6 h-3 Z" fill="#3aaa35"/>
<path d="M49.70 529 V527.6 Q49.70 526.8 50.50 526.8 H72.40 Q73.20 526.8 73.20 527.6 V529" fill="none" stroke="#151515" stroke-width="0.8"/>
<path d="M49.70 537.7 V536.4 Q49.70 535.6 50.50 535.6 H61.10 Q61.90 535.6 61.90 536.4 V537.7" fill="none" stroke="#151515" stroke-width="0.8"/>
<text transform="translate(61.45 527.2)" font-size="6.2" text-anchor="middle" fill="#111">***</text>
<text transform="translate(55.8 536)" font-size="6.2" text-anchor="middle" fill="#111">**</text>
<line x1="61.30" y1="601.6" x2="61.30" y2="604" stroke="#222" stroke-width="0.8"/>
<text transform="translate(61.3 613.1) scale(0.8950 1)" font-size="6.6" text-anchor="middle" fill="#383838">SRSF6</text>
<rect x="87.30" y="542.40" width="7.4" height="59.20" fill="#a9b3dc"/>
<circle cx="88.80" cy="542.40" r="1.35" fill="#0d4a8a"/>
<circle cx="91.00" cy="542.40" r="1.35" fill="#0d4a8a"/>
<circle cx="93.20" cy="542.40" r="1.35" fill="#0d4a8a"/>
<rect x="98.40" y="558.38" width="7.4" height="43.22" fill="#f08b82"/>
<path d="M102.10 568.45 V547.73 M100.50 568.45 h3.2 M100.50 547.73 h3.2" stroke="#c8102e" stroke-width="0.6" fill="none"/>
<rect x="100.85" y="546.48" width="2.5" height="2.5" fill="#c8102e"/>
<rect x="100.85" y="557.73" width="2.5" height="2.5" fill="#c8102e"/>
<rect x="100.85" y="566.61" width="2.5" height="2.5" fill="#c8102e"/>
<rect x="109.50" y="574.37" width="7.4" height="27.23" fill="#a6dc9b"/>
<path d="M113.20 575.55 V573.18 M111.60 575.55 h3.2 M111.60 573.18 h3.2" stroke="#3aaa35" stroke-width="0.6" fill="none"/>
<path d="M111.20 573.36 l1.5 2.6 h-3 Z" fill="#3aaa35"/>
<path d="M113.20 572.18 l1.5 2.6 h-3 Z" fill="#3aaa35"/>
<path d="M115.20 572.77 l1.5 2.6 h-3 Z" fill="#3aaa35"/>
<path d="M90.50 529 V527.6 Q90.50 526.8 91.30 526.8 H113.20 Q114.00 526.8 114.00 527.6 V529" fill="none" stroke="#151515" stroke-width="0.8"/>
<path d="M90.50 537.7 V536.4 Q90.50 535.6 91.30 535.6 H101.90 Q102.70 535.6 102.70 536.4 V537.7" fill="none" stroke="#151515" stroke-width="0.8"/>
<text transform="translate(102.25 527.2)" font-size="6.2" text-anchor="middle" fill="#111">****</text>
<text transform="translate(96.6 536)" font-size="6.2" text-anchor="middle" fill="#111">*</text>
<line x1="102.10" y1="601.6" x2="102.10" y2="604" stroke="#222" stroke-width="0.8"/>
<text transform="translate(102.1 613.1) scale(0.8950 1)" font-size="6.6" text-anchor="middle" fill="#383838">SRSF5</text>
<rect x="128.00" y="542.40" width="7.4" height="59.20" fill="#a9b3dc"/>
<circle cx="129.50" cy="542.40" r="1.35" fill="#0d4a8a"/>
<circle cx="131.70" cy="542.40" r="1.35" fill="#0d4a8a"/>
<circle cx="133.90" cy="542.40" r="1.35" fill="#0d4a8a"/>
<rect x="139.10" y="566.67" width="7.4" height="34.93" fill="#f08b82"/>
<path d="M142.80 569.04 V564.30 M141.20 569.04 h3.2 M141.20 564.30 h3.2" stroke="#c8102e" stroke-width="0.6" fill="none"/>
<rect x="139.55" y="563.05" width="2.5" height="2.5" fill="#c8102e"/>
<rect x="141.85" y="564.24" width="2.5" height="2.5" fill="#c8102e"/>
<rect x="143.75" y="567.20" width="2.5" height="2.5" fill="#c8102e"/>
<rect x="150.20" y="571.41" width="7.4" height="30.19" fill="#a6dc9b"/>
<path d="M153.90 580.88 V558.38 M152.30 580.88 h3.2 M152.30 558.38 h3.2" stroke="#3aaa35" stroke-width="0.6" fill="none"/>
<path d="M153.90 556.78 l1.5 2.6 h-3 Z" fill="#3aaa35"/>
<path d="M153.90 573.36 l1.5 2.6 h-3 Z" fill="#3aaa35"/>
<path d="M153.90 578.69 l1.5 2.6 h-3 Z" fill="#3aaa35"/>
<path d="M131.20 529 V527.6 Q131.20 526.8 132.00 526.8 H153.90 Q154.70 526.8 154.70 527.6 V529" fill="none" stroke="#151515" stroke-width="0.8"/>
<path d="M131.20 537.7 V536.4 Q131.20 535.6 132.00 535.6 H142.60 Q143.40 535.6 143.40 536.4 V537.7" fill="none" stroke="#151515" stroke-width="0.8"/>
<text transform="translate(142.95 527.2)" font-size="6.2" text-anchor="middle" fill="#111">***</text>
<text transform="translate(137.3 536)" font-size="6.2" text-anchor="middle" fill="#111">***</text>
<line x1="142.80" y1="601.6" x2="142.80" y2="604" stroke="#222" stroke-width="0.8"/>
<text transform="translate(142.8 613.1) scale(0.8950 1)" font-size="6.6" text-anchor="middle" fill="#383838">SRSF2</text>
<text transform="translate(14.6 570.3) rotate(-90) scale(0.6135 1)" font-size="8.2" text-anchor="middle" font-weight="bold" fill="#3a3a3a">Relative phos:total</text>
<text transform="translate(24.2 570.3) rotate(-90) scale(0.6178 1)" font-size="8.2" text-anchor="middle" font-weight="bold" fill="#3a3a3a">protein intensity</text>
<circle cx="38.6" cy="620.7" r="1.4" fill="#0d4a8a"/>
<text transform="translate(43.2 623.1) scale(0.8950 1)" font-size="6.6" fill="#383838">shControl</text>
<rect x="74.3" y="619.4" width="2.6" height="2.6" fill="#c8102e"/>
<text transform="translate(80.2 623.1) scale(0.8950 1)" font-size="6.6" fill="#383838">shHASPIN #1</text>
<path d="M124.6 619.1 l1.6 2.8 h-3.2 Z" fill="#3aaa35"/>
<text transform="translate(128.8 623.1) scale(0.8950 1)" font-size="6.6" fill="#383838">shHASPIN #2</text>
<text transform="translate(200.5 332.3)" font-size="11" font-weight="bold" fill="#111">G</text>
<defs><clipPath id="cO"><path d="M300 338 C306.6 338.1 311.9 337.6 320.4 339.2 C328.9 340.8 342.1 343.7 351 347.3 C359.9 350.9 367.7 355.5 374 360.8 C380.3 366.1 385.4 372.9 388.6 379 C391.9 385.1 393.0 391.3 393.5 397.3 C394.0 403.3 393.1 409.7 391.8 415 C390.6 420.3 388.4 425.0 386 429 C383.6 433.0 380.6 435.6 377.5 438.8 C374.4 442.0 371.2 444.6 367.5 448 C363.8 451.4 359.2 455.7 355 459 C350.8 462.3 346.2 465.5 342 468 C337.8 470.5 334.0 472.6 330 474.2 C326.0 475.8 322.2 476.9 318 477.3 C313.8 477.7 310.5 477.1 305 476.3 C299.5 475.5 291.3 473.9 285 472.3 C278.7 470.7 273.2 469.3 267 466.8 C260.8 464.3 253.8 460.6 248 457.5 C242.2 454.4 236.8 451.1 232.5 448.3 C228.2 445.5 225.2 443.9 222.5 440.5 C219.8 437.1 217.8 432.8 216.3 428 C214.8 423.2 214.0 417.6 213.7 412 C213.4 406.4 213.3 399.6 214.3 394.3 C215.3 389.0 217.2 384.6 219.5 380 C221.8 375.4 224.0 371.3 228 366.5 C232.0 361.7 237.7 355.0 243.5 351 C249.3 347.0 256.4 344.4 262.7 342.3 C268.9 340.2 274.8 339.3 281 338.6 C287.2 337.9 293.4 337.9 300 338 Z"/></clipPath></defs>
<path d="M300 338 C306.6 338.1 311.9 337.6 320.4 339.2 C328.9 340.8 342.1 343.7 351 347.3 C359.9 350.9 367.7 355.5 374 360.8 C380.3 366.1 385.4 372.9 388.6 379 C391.9 385.1 393.0 391.3 393.5 397.3 C394.0 403.3 393.1 409.7 391.8 415 C390.6 420.3 388.4 425.0 386 429 C383.6 433.0 380.6 435.6 377.5 438.8 C374.4 442.0 371.2 444.6 367.5 448 C363.8 451.4 359.2 455.7 355 459 C350.8 462.3 346.2 465.5 342 468 C337.8 470.5 334.0 472.6 330 474.2 C326.0 475.8 322.2 476.9 318 477.3 C313.8 477.7 310.5 477.1 305 476.3 C299.5 475.5 291.3 473.9 285 472.3 C278.7 470.7 273.2 469.3 267 466.8 C260.8 464.3 253.8 460.6 248 457.5 C242.2 454.4 236.8 451.1 232.5 448.3 C228.2 445.5 225.2 443.9 222.5 440.5 C219.8 437.1 217.8 432.8 216.3 428 C214.8 423.2 214.0 417.6 213.7 412 C213.4 406.4 213.3 399.6 214.3 394.3 C215.3 389.0 217.2 384.6 219.5 380 C221.8 375.4 224.0 371.3 228 366.5 C232.0 361.7 237.7 355.0 243.5 351 C249.3 347.0 256.4 344.4 262.7 342.3 C268.9 340.2 274.8 339.3 281 338.6 C287.2 337.9 293.4 337.9 300 338 Z" fill="#fbd7ba"/>
<ellipse cx="272.2" cy="504.5" rx="63.9" ry="46.9" transform="rotate(31.8 272.2 504.5)" fill="#dccce7"/>
<ellipse cx="395.6" cy="491.5" rx="75" ry="52.6" transform="rotate(63.5 395.6 491.5)" fill="#fdf3b8"/>
<g clip-path="url(#cO)"><ellipse cx="272.2" cy="504.5" rx="63.9" ry="46.9" transform="rotate(31.8 272.2 504.5)" fill="#ecbdb2"/></g>
<g clip-path="url(#cO)"><ellipse cx="395.6" cy="491.5" rx="75" ry="52.6" transform="rotate(63.5 395.6 491.5)" fill="#fbd98f"/></g>
<path d="M300 338 C306.6 338.1 311.9 337.6 320.4 339.2 C328.9 340.8 342.1 343.7 351 347.3 C359.9 350.9 367.7 355.5 374 360.8 C380.3 366.1 385.4 372.9 388.6 379 C391.9 385.1 393.0 391.3 393.5 397.3 C394.0 403.3 393.1 409.7 391.8 415 C390.6 420.3 388.4 425.0 386 429 C383.6 433.0 380.6 435.6 377.5 438.8 C374.4 442.0 371.2 444.6 367.5 448 C363.8 451.4 359.2 455.7 355 459 C350.8 462.3 346.2 465.5 342 468 C337.8 470.5 334.0 472.6 330 474.2 C326.0 475.8 322.2 476.9 318 477.3 C313.8 477.7 310.5 477.1 305 476.3 C299.5 475.5 291.3 473.9 285 472.3 C278.7 470.7 273.2 469.3 267 466.8 C260.8 464.3 253.8 460.6 248 457.5 C242.2 454.4 236.8 451.1 232.5 448.3 C228.2 445.5 225.2 443.9 222.5 440.5 C219.8 437.1 217.8 432.8 216.3 428 C214.8 423.2 214.0 417.6 213.7 412 C213.4 406.4 213.3 399.6 214.3 394.3 C215.3 389.0 217.2 384.6 219.5 380 C221.8 375.4 224.0 371.3 228 366.5 C232.0 361.7 237.7 355.0 243.5 351 C249.3 347.0 256.4 344.4 262.7 342.3 C268.9 340.2 274.8 339.3 281 338.6 C287.2 337.9 293.4 337.9 300 338 Z" fill="none" stroke="#a08268" stroke-width="0.7"/>
<ellipse cx="272.2" cy="504.5" rx="63.9" ry="46.9" transform="rotate(31.8 272.2 504.5)" fill="none" stroke="#8d7a9c" stroke-width="0.7"/>
<ellipse cx="395.6" cy="491.5" rx="75" ry="52.6" transform="rotate(63.5 395.6 491.5)" fill="none" stroke="#b0a560" stroke-width="0.7"/>
<g stroke="#22222e" stroke-linecap="round" fill="none" opacity="0.92">
<path d="M387 348.8 Q396.4 355.7 408 356.5" stroke-width="0.9"/>
<path d="M412.5 375.5 Q407.0 390.2 407.3 405.9" stroke-width="0.9"/>
<path d="M435.3 362 Q436.9 369.9 436.5 378" stroke-width="0.9"/>
<path d="M456.3 369.5 Q462.1 378.6 471.3 384.3" stroke-width="0.9"/>
<path d="M453.8 390.5 Q438.7 398.8 422.3 403.8" stroke-width="0.9"/>
<path d="M453.8 390.5 Q445.4 396.6 438.5 404.5" stroke-width="0.9"/>
<path d="M453.8 390.5 Q460.7 395.3 465 402.5" stroke-width="0.9"/>
<path d="M453.8 390.5 Q439.0 402.0 433.3 419.8" stroke-width="0.9"/>
<path d="M453.8 390.5 Q457.2 411.2 451.3 431.3" stroke-width="0.9"/>
<path d="M453.8 390.5 Q464.8 409.0 472.2 429.3" stroke-width="0.9"/>
<path d="M422.3 403.8 Q415.1 407.0 407.3 405.9" stroke-width="0.9"/>
<path d="M422.3 403.8 Q430.5 402.0 438.5 404.5" stroke-width="0.9"/>
<path d="M422.3 403.8 Q426.3 412.8 433.3 419.8" stroke-width="0.9"/>
<path d="M407.3 405.9 Q421.7 410.2 433.3 419.8" stroke-width="0.9"/>
<path d="M407.3 405.9 Q426.8 423.0 451.3 431.3" stroke-width="0.9"/>
<path d="M407.3 405.9 Q395.2 406.4 383.8 402.5" stroke-width="0.9"/>
<path d="M407.3 405.9 Q411.2 422.4 420.5 436.5" stroke-width="0.9"/>
<path d="M438.5 404.5 Q451.5 400.2 465 402.5" stroke-width="0.9"/>
<path d="M438.5 404.5 Q433.9 411.5 433.3 419.8" stroke-width="0.9"/>
<path d="M438.5 404.5 Q443.7 418.5 451.3 431.3" stroke-width="0.9"/>
<path d="M438.5 404.5 Q459.1 405.0 478.3 412.5" stroke-width="0.9"/>
<path d="M465 402.5 Q470.8 408.6 478.3 412.5" stroke-width="0.9"/>
<path d="M465 402.5 Q462.2 418.8 451.3 431.3" stroke-width="0.9"/>
<path d="M465 402.5 Q470.4 415.4 472.2 429.3" stroke-width="0.9"/>
<path d="M465 402.5 Q450.8 414.2 433.3 419.8" stroke-width="0.9"/>
<path d="M478.3 412.5 Q463.1 419.5 451.3 431.3" stroke-width="0.9"/>
<path d="M478.3 412.5 Q477.5 421.7 472.2 429.3" stroke-width="0.9"/>
<path d="M433.3 419.8 Q441.4 427.0 451.3 431.3" stroke-width="0.9"/>
<path d="M451.3 431.3 Q461.9 432.0 472.2 429.3" stroke-width="0.9"/>
<path d="M489.5 397.5 Q486.7 410.9 490.8 424" stroke-width="0.9"/>
<path d="M383.8 402.5 Q382.4 386.9 384.5 371.3" stroke-width="0.9"/>
<path d="M383.8 402.5 Q374.2 400.8 365 397.5" stroke-width="0.9"/>
<path d="M383.8 402.5 Q379.3 410.4 379.5 419.5" stroke-width="0.9"/>
<path d="M383.8 402.5 Q377.0 394.9 374.5 385" stroke-width="0.9"/>
<path d="M384.5 371.3 Q374.9 367.2 367.5 360" stroke-width="0.9"/>
<path d="M347.5 354.5 Q358.4 354.1 367.5 360" stroke-width="0.9"/>
<path d="M347.5 354.5 Q356.5 364.8 361.3 377.5" stroke-width="0.9"/>
<path d="M367.5 360 Q363.5 368.4 361.3 377.5" stroke-width="0.9"/>
<path d="M361.3 377.5 Q366.7 383.3 374.5 385" stroke-width="0.9"/>
<path d="M374.5 385 Q370.7 391.9 365 397.5" stroke-width="0.9"/>
<path d="M319.5 348.3 Q318.5 358.3 323.5 367" stroke-width="0.9"/>
<path d="M323.5 367 Q333.2 369.0 342 373.5" stroke-width="0.9"/>
<path d="M323.5 367 Q321.0 376.4 324.5 385.5" stroke-width="0.9"/>
<path d="M323.5 367 Q316.1 375.7 307.3 383" stroke-width="0.9"/>
<path d="M323.5 367 Q308.4 373.8 292 376.5" stroke-width="0.9"/>
<path d="M365 397.5 Q350.4 398.5 336.2 401.9" stroke-width="0.9"/>
<path d="M365 397.5 Q359.3 404.6 358 413.6" stroke-width="0.9"/>
<path d="M365 397.5 Q335.1 403.7 307 415.5" stroke-width="0.9"/>
<path d="M365 397.5 Q336.6 402.0 308 399" stroke-width="0.9"/>
<path d="M379.5 419.5 Q371.2 434.3 360.5 447.5" stroke-width="0.9"/>
<path d="M358 413.6 Q349.8 414.5 342.4 418" stroke-width="0.9"/>
<path d="M358 413.6 Q347.7 406.5 336.2 401.9" stroke-width="0.9"/>
<path d="M358 413.6 Q349.3 422.0 346.2 433.7" stroke-width="0.9"/>
<path d="M420.5 436.5 Q412.4 442.3 402.5 443" stroke-width="0.9"/>
<path d="M360.5 447.5 Q381.0 440.4 402.5 443" stroke-width="0.9"/>
<path d="M437.5 477.5 Q416.9 483.8 403 500.3" stroke-width="0.9"/>
<path d="M427.2 527.3 Q432.0 521.6 439 518.8" stroke-width="0.9"/>
<path d="M377.5 532.7 Q383.7 536.1 387.5 542" stroke-width="0.9"/>
<path d="M437 439.3 Q443.2 433.5 451.3 431.3" stroke-width="0.9"/>
<path d="M437 439.3 Q431.7 458.5 437.5 477.5" stroke-width="0.9"/>
<path d="M449.5 451.3 Q448.6 441.1 451.3 431.3" stroke-width="0.9"/>
<path d="M486.3 439.5 Q477.5 446.0 467.5 450.5" stroke-width="0.9"/>
<path d="M467.5 450.5 Q464.5 458.5 463.8 467" stroke-width="0.9"/>
<path d="M498.8 453 Q491.5 454.9 485 458.8" stroke-width="0.9"/>
<path d="M485 458.8 Q480.9 467.5 479.5 477" stroke-width="0.9"/>
<path d="M457.5 483.8 Q467.6 485.5 475 492.5" stroke-width="0.9"/>
<path d="M450 507.5 Q437.9 505.5 426.5 501" stroke-width="0.9"/>
<path d="M450 507.5 Q443.3 512.0 439 518.8" stroke-width="0.9"/>
<path d="M468.8 511.3 Q467.8 519.7 464.5 527.5" stroke-width="0.9"/>
<path d="M403 500.3 Q414.8 497.6 426.5 501" stroke-width="0.9"/>
<path d="M403 500.3 Q410.9 486.9 422.3 476.3" stroke-width="0.9"/>
<path d="M403 500.3 Q419.7 512.1 439 518.8" stroke-width="0.9"/>
<path d="M403 500.3 Q392.6 505.0 381.3 507" stroke-width="0.9"/>
<path d="M403 500.3 Q402.6 513.2 407.3 525.2" stroke-width="0.9"/>
<path d="M403 500.3 Q416.5 512.6 427.2 527.3" stroke-width="0.9"/>
<path d="M403 500.3 Q401.3 489.1 406 478.8" stroke-width="0.9"/>
<path d="M403 500.3 Q415.1 482.6 418 461.3" stroke-width="0.9"/>
<path d="M403 500.3 Q391.8 492.1 385 480" stroke-width="0.9"/>
<path d="M426.5 501 Q434.5 508.7 439 518.8" stroke-width="0.9"/>
<path d="M426.5 501 Q427.5 488.1 422.3 476.3" stroke-width="0.9"/>
<path d="M402.5 443 Q411.0 451.5 418 461.3" stroke-width="0.9"/>
<path d="M402.5 443 Q407.8 460.6 406 478.8" stroke-width="0.9"/>
<path d="M402.5 443 Q395.7 451.9 392 462.5" stroke-width="0.9"/>
<path d="M402.5 443 Q393.7 441.1 385.5 437.5" stroke-width="0.9"/>
<path d="M360.5 447.5 Q374.3 445.7 385.5 437.5" stroke-width="0.9"/>
<path d="M360.5 447.5 Q369.4 453.9 373.8 463.8" stroke-width="0.9"/>
<path d="M360.5 447.5 Q359.0 466.9 363.8 485.8" stroke-width="0.9"/>
<path d="M360.5 447.5 Q353.5 461.1 355 476.3" stroke-width="0.9"/>
<path d="M360.5 447.5 Q361.8 480.4 381.3 507" stroke-width="0.9"/>
<path d="M360.5 447.5 Q351.4 442.7 346.2 433.7" stroke-width="0.9"/>
<path d="M360.5 447.5 Q354.0 457.6 343.8 463.8" stroke-width="0.9"/>
<path d="M360.5 447.5 Q370.0 465.8 385 480" stroke-width="0.9"/>
<path d="M360.5 447.5 Q377.9 451.4 392 462.5" stroke-width="0.9"/>
<path d="M373.8 463.8 Q382.8 462.2 392 462.5" stroke-width="0.9"/>
<path d="M373.8 463.8 Q372.3 476.4 363.8 485.8" stroke-width="0.9"/>
<path d="M392 462.5 Q386.3 470.4 385 480" stroke-width="0.9"/>
<path d="M392 462.5 Q396.5 472.8 406 478.8" stroke-width="0.9"/>
<path d="M385 480 Q380.6 493.2 381.3 507" stroke-width="0.9"/>
<path d="M385 480 Q375.0 485.1 363.8 485.8" stroke-width="0.9"/>
<path d="M385 480 Q399.6 500.9 407.3 525.2" stroke-width="0.9"/>
<path d="M385 480 Q410.7 499.5 427.2 527.3" stroke-width="0.9"/>
<path d="M385 480 Q395.3 476.1 406 478.8" stroke-width="0.9"/>
<path d="M406 478.8 Q385.6 486.5 363.8 485.8" stroke-width="0.9"/>
<path d="M406 478.8 Q413.2 470.9 418 461.3" stroke-width="0.9"/>
<path d="M363.8 485.8 Q358.6 481.8 355 476.3" stroke-width="0.9"/>
<path d="M363.8 485.8 Q354.6 487.0 345.8 483.8" stroke-width="0.9"/>
<path d="M363.8 485.8 Q360.6 492.8 355 498" stroke-width="0.9"/>
<path d="M363.8 485.8 Q370.0 498.5 381.3 507" stroke-width="0.9"/>
<path d="M363.8 485.8 Q359.6 506.8 363.8 527.7" stroke-width="0.9"/>
<path d="M381.3 507 Q367.4 504.6 355 498" stroke-width="0.9"/>
<path d="M381.3 507 Q370.3 508.4 360 512.5" stroke-width="0.9"/>
<path d="M381.3 507 Q369.7 515.0 363.8 527.7" stroke-width="0.9"/>
<path d="M381.3 507 Q390.2 514.3 393.8 525.2" stroke-width="0.9"/>
<path d="M381.3 507 Q393.1 517.8 407.3 525.2" stroke-width="0.9"/>
<path d="M381.3 507 Q402.9 520.1 427.2 527.3" stroke-width="0.9"/>
<path d="M381.3 507 Q382.0 520.2 377.5 532.7" stroke-width="0.9"/>
<path d="M381.3 507 Q388.8 523.7 387.5 542" stroke-width="0.9"/>
<path d="M381.3 507 Q372.4 488.0 355 476.3" stroke-width="0.9"/>
<path d="M381.3 507 Q398.9 487.8 422.3 476.3" stroke-width="0.9"/>
<path d="M393.8 525.2 Q400.6 527.2 407.3 525.2" stroke-width="0.9"/>
<path d="M407.3 525.2 Q417.1 528.0 427.2 527.3" stroke-width="0.9"/>
<path d="M407.3 525.2 Q395.4 531.2 387.5 542" stroke-width="0.9"/>
<path d="M407.3 525.2 Q410.1 536.8 416.3 547" stroke-width="0.9"/>
<path d="M407.3 525.2 Q406.5 540.5 401.3 555" stroke-width="0.9"/>
<path d="M427.2 527.3 Q409.1 539.5 387.5 542" stroke-width="0.9"/>
<path d="M427.2 527.3 Q419.6 536.0 416.3 547" stroke-width="0.9"/>
<path d="M387.5 542 Q392.9 550.1 401.3 555" stroke-width="0.9"/>
<path d="M321.3 490.2 Q332.8 484.1 345.8 483.8" stroke-width="0.9"/>
<path d="M321.3 490.2 Q343.0 492.0 363.8 485.8" stroke-width="0.9"/>
<path d="M321.3 490.2 Q322.2 481.2 327.5 473.8" stroke-width="0.9"/>
<path d="M321.3 490.2 Q315.8 497.0 312.3 505" stroke-width="0.9"/>
<path d="M321.3 490.2 Q327.8 501.6 327.7 514.7" stroke-width="0.9"/>
<path d="M321.3 490.2 Q312.3 490.7 303.8 488" stroke-width="0.9"/>
<path d="M321.3 490.2 Q303.1 489.3 287.5 498.8" stroke-width="0.9"/>
<path d="M321.3 490.2 Q314.3 478.7 310.5 465.8" stroke-width="0.9"/>
<path d="M327.7 514.7 Q320.7 508.8 312.3 505" stroke-width="0.9"/>
<path d="M327.7 514.7 Q320.2 520.2 311 521.3" stroke-width="0.9"/>
<path d="M334.6 537 Q330.2 545.9 323.8 553.5" stroke-width="0.9"/>
<path d="M352 544 Q357.0 552.0 365.3 556.5" stroke-width="0.9"/>
<path d="M311.3 542.5 Q309.3 531.9 311 521.3" stroke-width="0.9"/>
<path d="M240 355 Q275.1 365.6 307.3 383" stroke-width="0.9"/>
<path d="M240 355 Q281.1 365.6 323.5 367" stroke-width="0.9"/>
<path d="M277.5 348.8 Q290.2 367.8 307.3 383" stroke-width="0.9"/>
<path d="M226.3 387.5 Q255.0 385.8 282.7 393.7" stroke-width="0.9"/>
<path d="M226.3 387.5 Q245.0 398.5 266.5 401.8" stroke-width="0.9"/>
<path d="M323.5 367 Q343.2 388.5 358 413.6" stroke-width="0.9"/>
<path d="M323.5 367 Q336.3 391.3 342.4 418" stroke-width="0.9"/>
<path d="M365 397.5 Q346.6 385.1 324.5 385.5" stroke-width="0.9"/>
<path d="M346.2 433.7 Q336.0 435.6 327.5 441.5" stroke-width="0.8"/>
<path d="M346.2 433.7 Q335.2 444.3 327.5 457.5" stroke-width="0.8"/>
<path d="M346.2 433.7 Q347.5 448.9 343.8 463.8" stroke-width="0.8"/>
<path d="M346.2 433.7 Q343.6 426.0 342.4 418" stroke-width="0.8"/>
<path d="M346.2 433.7 Q337.6 424.6 326 419.7" stroke-width="0.8"/>
<path d="M346.2 433.7 Q328.4 428.9 310.1 431.2" stroke-width="0.8"/>
<path d="M327.5 441.5 Q328.6 449.5 327.5 457.5" stroke-width="0.8"/>
<path d="M327.5 441.5 Q319.6 446.6 310.5 448.5" stroke-width="0.8"/>
<path d="M327.5 441.5 Q318.2 437.4 310.1 431.2" stroke-width="0.8"/>
<path d="M327.5 441.5 Q329.4 430.4 326 419.7" stroke-width="0.8"/>
<path d="M327.5 441.5 Q330.6 457.6 327.5 473.8" stroke-width="0.8"/>
<path d="M327.5 457.5 Q334.7 463.2 343.8 463.8" stroke-width="0.8"/>
<path d="M327.5 457.5 Q325.7 465.6 327.5 473.8" stroke-width="0.8"/>
<path d="M327.5 457.5 Q320.1 463.9 310.5 465.8" stroke-width="0.8"/>
<path d="M327.5 457.5 Q319.9 451.2 310.5 448.5" stroke-width="0.8"/>
<path d="M343.8 463.8 Q334.3 466.5 327.5 473.8" stroke-width="0.9"/>
<path d="M310.5 448.5 Q312.3 457.1 310.5 465.8" stroke-width="0.8"/>
<path d="M310.5 448.5 Q311.6 439.8 310.1 431.2" stroke-width="0.8"/>
<path d="M310.5 448.5 Q304.8 437.4 293.8 431.5" stroke-width="0.8"/>
<path d="M310.5 448.5 Q302.4 455.6 292.5 460" stroke-width="0.8"/>
<path d="M310.5 448.5 Q295.2 452.2 280.6 446.5" stroke-width="0.8"/>
<path d="M310.5 465.8 Q302.1 460.9 292.5 460" stroke-width="0.9"/>
<path d="M310.5 465.8 Q309.1 477.5 303.8 488" stroke-width="0.9"/>
<path d="M240 355 Q249.5 374.6 250.6 396.4" stroke-width="0.9"/>
<path d="M240 355 Q259.0 353.5 277.5 348.8" stroke-width="0.9"/>
<path d="M240 355 Q258.4 359.1 273.8 370" stroke-width="0.9"/>
<path d="M277.5 348.8 Q273.4 359.0 273.8 370" stroke-width="0.9"/>
<path d="M277.5 348.8 Q287.5 361.2 292 376.5" stroke-width="0.9"/>
<path d="M277.5 348.8 Q301.4 355.7 323.5 367" stroke-width="0.9"/>
<path d="M226.3 387.5 Q237.7 394.1 250.6 396.4" stroke-width="0.9"/>
<path d="M226.3 387.5 Q242.9 381.0 257 370" stroke-width="0.9"/>
<path d="M226.3 387.5 Q232.7 405.1 245.3 418.9" stroke-width="0.9"/>
<path d="M226.3 387.5 Q246.7 390.2 266.8 385.4" stroke-width="0.9"/>
<path d="M228.7 410.2 Q241.1 405.6 250.6 396.4" stroke-width="0.9"/>
<path d="M228.7 410.2 Q237.5 413.5 245.3 418.9" stroke-width="0.9"/>
<path d="M228.7 410.2 Q245.6 426.7 250.6 449.9" stroke-width="0.9"/>
<path d="M221.2 427.2 Q232.2 420.1 245.3 418.9" stroke-width="0.9"/>
<path d="M221.2 427.2 Q227.8 437.2 232.5 448.3" stroke-width="0.9"/>
<path d="M232.5 448.3 Q241.7 447.9 250.6 449.9" stroke-width="0.9"/>
<path d="M232.5 448.3 Q241.2 434.6 245.3 418.9" stroke-width="0.9"/>
<path d="M232.5 448.3 Q233.8 480.9 244 512" stroke-width="0.9"/>
<path d="M232.5 448.3 Q244.3 474.4 261.3 497.5" stroke-width="0.9"/>
<path d="M232.5 448.3 Q262.9 474.3 275 512.3" stroke-width="0.9"/>
<path d="M232.5 448.3 Q235.3 489.6 257.3 524.7" stroke-width="0.9"/>
<path d="M232.5 448.3 Q234.6 468.2 240 487.5" stroke-width="0.9"/>
<path d="M250.6 449.9 Q258.5 443.5 262 434" stroke-width="0.9"/>
<path d="M250.6 449.9 Q261.6 454.2 270 462.5" stroke-width="0.9"/>
<path d="M250.6 449.9 Q252.8 433.1 261.6 418.5" stroke-width="0.9"/>
<path d="M250.6 449.9 Q257.6 464.0 260.5 479.5" stroke-width="0.9"/>
<path d="M270 462.5 Q277.7 456.1 280.6 446.5" stroke-width="0.9"/>
<path d="M270 462.5 Q278.2 445.8 278.5 427.2" stroke-width="0.9"/>
<path d="M270 462.5 Q276.8 470.8 281.3 480.5" stroke-width="0.9"/>
<path d="M270 462.5 Q267.7 472.4 260.5 479.5" stroke-width="0.9"/>
<path d="M270 462.5 Q261.8 449.4 262 434" stroke-width="0.9"/>
<path d="M270 462.5 Q280.9 458.4 292.5 460" stroke-width="0.9"/>
<path d="M240.8 468 Q238.4 457.4 232.5 448.3" stroke-width="0.9"/>
<path d="M240.8 468 Q237.7 477.6 240 487.5" stroke-width="0.9"/>
<path d="M260.5 479.5 Q270.8 482.2 281.3 480.5" stroke-width="0.9"/>
<path d="M260.5 479.5 Q262.1 488.4 261.3 497.5" stroke-width="0.9"/>
<path d="M240 487.5 Q243.3 499.5 244 512" stroke-width="0.9"/>
<path d="M240 487.5 Q249.2 495.7 261.3 497.5" stroke-width="0.9"/>
<path d="M257 370 Q265.4 370.9 273.8 370" stroke-width="1.1"/>
<path d="M257 370 Q273.8 376.8 292 376.5" stroke-width="1.0"/>
<path d="M257 370 Q264.0 376.4 266.8 385.4" stroke-width="1.1"/>
<path d="M257 370 Q252.4 382.9 250.6 396.4" stroke-width="1.0"/>
<path d="M257 370 Q265.9 384.7 266.5 401.8" stroke-width="1.0"/>
<path d="M257 370 Q280.8 387.4 308 399" stroke-width="0.9"/>
<path d="M273.8 370 Q283.2 372.3 292 376.5" stroke-width="1.1"/>
<path d="M273.8 370 Q292.4 371.8 307.3 383" stroke-width="1.0"/>
<path d="M273.8 370 Q268.0 376.6 266.8 385.4" stroke-width="1.1"/>
<path d="M273.8 370 Q280.8 380.9 282.7 393.7" stroke-width="1.1"/>
<path d="M273.8 370 Q275.1 387.0 266.5 401.8" stroke-width="1.0"/>
<path d="M273.8 370 Q277.9 391.3 286 411.3" stroke-width="1.0"/>
<path d="M273.8 370 Q280.7 398.2 278.5 427.2" stroke-width="0.9"/>
<path d="M292 376.5 Q299.1 381.1 307.3 383" stroke-width="1.1"/>
<path d="M292 376.5 Q278.6 378.6 266.8 385.4" stroke-width="1.0"/>
<path d="M292 376.5 Q286.6 384.7 282.7 393.7" stroke-width="1.1"/>
<path d="M292 376.5 Q303.2 385.5 308 399" stroke-width="1.0"/>
<path d="M292 376.5 Q292.1 394.4 286 411.3" stroke-width="1.0"/>
<path d="M292 376.5 Q294.5 397.9 307 415.5" stroke-width="1.0"/>
<path d="M307.3 383 Q293.4 384.6 282.7 393.7" stroke-width="1.0"/>
<path d="M307.3 383 Q308.5 391.0 308 399" stroke-width="1.1"/>
<path d="M307.3 383 Q304.4 408.3 293.8 431.5" stroke-width="0.9"/>
<path d="M307.3 383 Q302.6 418.4 280.6 446.5" stroke-width="0.9"/>
<path d="M307.3 383 Q315.6 386.1 324.5 385.5" stroke-width="1.1"/>
<path d="M307.3 383 Q323.6 389.5 336.2 401.9" stroke-width="1.0"/>
<path d="M266.8 385.4 Q257.2 388.7 250.6 396.4" stroke-width="1.1"/>
<path d="M266.8 385.4 Q274.1 390.7 282.7 393.7" stroke-width="1.1"/>
<path d="M266.8 385.4 Q268.8 393.6 266.5 401.8" stroke-width="1.1"/>
<path d="M266.8 385.4 Q280.0 395.7 286 411.3" stroke-width="1.0"/>
<path d="M266.8 385.4 Q254.2 400.9 245.3 418.9" stroke-width="0.9"/>
<path d="M266.8 385.4 Q257.3 409.0 262 434" stroke-width="0.9"/>
<path d="M266.8 385.4 Q291.9 410.4 326 419.7" stroke-width="0.9"/>
<path d="M250.6 396.4 Q259.0 397.7 266.5 401.8" stroke-width="1.1"/>
<path d="M250.6 396.4 Q279.4 394.9 308 399" stroke-width="0.9"/>
<path d="M250.6 396.4 Q246.2 407.2 245.3 418.9" stroke-width="1.1"/>
<path d="M250.6 396.4 Q257.0 407.0 261.6 418.5" stroke-width="1.1"/>
<path d="M282.7 393.7 Q273.3 395.2 266.5 401.8" stroke-width="1.1"/>
<path d="M282.7 393.7 Q295.7 394.6 308 399" stroke-width="1.1"/>
<path d="M282.7 393.7 Q282.9 402.8 286 411.3" stroke-width="1.1"/>
<path d="M282.7 393.7 Q269.5 403.8 261.6 418.5" stroke-width="1.0"/>
<path d="M282.7 393.7 Q283.5 410.8 278.5 427.2" stroke-width="1.0"/>
<path d="M282.7 393.7 Q292.0 415.7 310.1 431.2" stroke-width="1.0"/>
<path d="M282.7 393.7 Q277.6 416.6 262 434" stroke-width="1.0"/>
<path d="M282.7 393.7 Q303.2 387.4 324.5 385.5" stroke-width="1.0"/>
<path d="M282.7 393.7 Q296.1 425.6 292.5 460" stroke-width="0.9"/>
<path d="M266.5 401.8 Q275.4 408.4 286 411.3" stroke-width="1.1"/>
<path d="M266.5 401.8 Q266.2 410.8 261.6 418.5" stroke-width="1.1"/>
<path d="M266.5 401.8 Q271.5 415.0 278.5 427.2" stroke-width="1.0"/>
<path d="M266.5 401.8 Q278.1 418.6 293.8 431.5" stroke-width="1.0"/>
<path d="M266.5 401.8 Q268.8 425.6 280.6 446.5" stroke-width="1.0"/>
<path d="M308 399 Q295.1 401.7 286 411.3" stroke-width="1.1"/>
<path d="M308 399 Q309.4 407.4 307 415.5" stroke-width="1.1"/>
<path d="M308 399 Q296.2 416.2 278.5 427.2" stroke-width="1.0"/>
<path d="M308 399 Q303.7 416.5 293.8 431.5" stroke-width="1.0"/>
<path d="M308 399 Q311.8 414.9 310.1 431.2" stroke-width="0.9"/>
<path d="M308 399 Q320.0 406.8 326 419.7" stroke-width="1.0"/>
<path d="M308 399 Q315.0 390.7 324.5 385.5" stroke-width="1.1"/>
<path d="M308 399 Q321.8 403.0 336.2 401.9" stroke-width="1.0"/>
<path d="M286 411.3 Q264.8 410.6 245.3 418.9" stroke-width="1.0"/>
<path d="M286 411.3 Q273.1 412.4 261.6 418.5" stroke-width="1.1"/>
<path d="M286 411.3 Q296.0 415.9 307 415.5" stroke-width="1.1"/>
<path d="M286 411.3 Q280.3 418.4 278.5 427.2" stroke-width="1.1"/>
<path d="M286 411.3 Q289.0 421.7 293.8 431.5" stroke-width="1.1"/>
<path d="M286 411.3 Q300.2 418.6 310.1 431.2" stroke-width="0.9"/>
<path d="M286 411.3 Q276.0 424.8 262 434" stroke-width="1.0"/>
<path d="M286 411.3 Q281.7 428.6 280.6 446.5" stroke-width="1.0"/>
<path d="M245.3 418.9 Q253.5 420.8 261.6 418.5" stroke-width="1.1"/>
<path d="M245.3 418.9 Q262.8 419.4 278.5 427.2" stroke-width="1.0"/>
<path d="M245.3 418.9 Q252.9 427.3 262 434" stroke-width="1.1"/>
<path d="M245.3 418.9 Q265.5 429.5 280.6 446.5" stroke-width="1.0"/>
<path d="M261.6 418.5 Q269.4 424.0 278.5 427.2" stroke-width="1.1"/>
<path d="M261.6 418.5 Q278.3 423.5 293.8 431.5" stroke-width="1.0"/>
<path d="M261.6 418.5 Q264.2 426.2 262 434" stroke-width="1.1"/>
<path d="M307 415.5 Q299.5 422.7 293.8 431.5" stroke-width="1.1"/>
<path d="M307 415.5 Q310.3 423.0 310.1 431.2" stroke-width="1.1"/>
<path d="M307 415.5 Q295.2 432.2 280.6 446.5" stroke-width="1.0"/>
<path d="M307 415.5 Q316.1 419.4 326 419.7" stroke-width="1.1"/>
<path d="M307 415.5 Q311.4 398.0 324.5 385.5" stroke-width="1.0"/>
<path d="M307 415.5 Q323.0 411.7 336.2 401.9" stroke-width="1.0"/>
<path d="M307 415.5 Q303.5 439.0 292.5 460" stroke-width="1.0"/>
<path d="M278.5 427.2 Q286.7 427.5 293.8 431.5" stroke-width="1.1"/>
<path d="M278.5 427.2 Q269.5 428.7 262 434" stroke-width="1.1"/>
<path d="M278.5 427.2 Q277.9 437.0 280.6 446.5" stroke-width="1.1"/>
<path d="M278.5 427.2 Q290.6 441.4 292.5 460" stroke-width="1.0"/>
<path d="M293.8 431.5 Q301.9 430.2 310.1 431.2" stroke-width="1.1"/>
<path d="M293.8 431.5 Q288.7 440.3 280.6 446.5" stroke-width="1.1"/>
<path d="M293.8 431.5 Q289.3 445.6 292.5 460" stroke-width="1.0"/>
<path d="M310.1 431.2 Q294.2 436.7 280.6 446.5" stroke-width="1.0"/>
<path d="M310.1 431.2 Q316.7 423.6 326 419.7" stroke-width="1.1"/>
<path d="M310.1 431.2 Q314.4 407.4 324.5 385.5" stroke-width="0.9"/>
<path d="M262 434 Q272.6 438.4 280.6 446.5" stroke-width="1.1"/>
<path d="M262 434 Q291.9 417.5 326 419.7" stroke-width="0.9"/>
<path d="M280.6 446.5 Q288.1 451.9 292.5 460" stroke-width="1.1"/>
<path d="M326 419.7 Q322.8 402.7 324.5 385.5" stroke-width="1.0"/>
<path d="M326 419.7 Q331.9 411.2 336.2 401.9" stroke-width="1.1"/>
<path d="M326 419.7 Q334.1 418.0 342.4 418" stroke-width="1.1"/>
<path d="M324.5 385.5 Q329.6 394.3 336.2 401.9" stroke-width="1.1"/>
<path d="M336.2 401.9 Q341.7 409.0 342.4 418" stroke-width="1.1"/>
<path d="M266.8 385.4 Q267.7 402.5 261.6 418.5" stroke-width="1.5"/>
<path d="M266.8 385.4 Q268.6 407.4 278.5 427.2" stroke-width="1.5"/>
<path d="M250.6 396.4 Q266.8 397.1 282.7 393.7" stroke-width="1.5"/>
<path d="M250.6 396.4 Q266.8 407.4 286 411.3" stroke-width="1.5"/>
<path d="M250.6 396.4 Q268.9 407.9 278.5 427.2" stroke-width="1.5"/>
<path d="M282.7 393.7 Q267.4 411.4 245.3 418.9" stroke-width="1.5"/>
<path d="M266.5 401.8 Q253.6 407.4 245.3 418.9" stroke-width="1.5"/>
<path d="M270 462.5 Q273.2 435.4 286 411.3" stroke-width="1.5"/>
<path d="M270 462.5 Q282.3 429.2 282.7 393.7" stroke-width="1.5"/>
<path d="M270 462.5 Q263.1 432.4 266.5 401.8" stroke-width="1.5"/>
<path d="M270 462.5 Q269.1 439.9 261.6 418.5" stroke-width="1.5"/>
<path d="M270 462.5 Q261.4 424.2 266.8 385.4" stroke-width="1.5"/>
<path d="M280.6 446.5 Q287.4 420.3 282.7 393.7" stroke-width="1.4"/>
<path d="M262 434 Q268.9 418.6 266.5 401.8" stroke-width="1.3"/>
<path d="M281.3 480.5 Q293.3 481.9 303.8 488" stroke-width="1.0"/>
<path d="M281.3 480.5 Q269.5 486.8 261.3 497.5" stroke-width="1.0"/>
<path d="M281.3 480.5 Q281.9 490.5 287.5 498.8" stroke-width="1.0"/>
<path d="M281.3 480.5 Q294.9 495.1 312.3 505" stroke-width="0.9"/>
<path d="M281.3 480.5 Q279.7 496.7 275 512.3" stroke-width="0.9"/>
<path d="M281.3 480.5 Q289.7 496.5 288 514.5" stroke-width="0.9"/>
<path d="M303.8 488 Q283.7 498.0 261.3 497.5" stroke-width="0.9"/>
<path d="M303.8 488 Q294.3 491.3 287.5 498.8" stroke-width="1.0"/>
<path d="M303.8 488 Q306.8 497.1 312.3 505" stroke-width="1.0"/>
<path d="M303.8 488 Q281.6 486.6 260.5 479.5" stroke-width="0.9"/>
<path d="M261.3 497.5 Q274.3 500.3 287.5 498.8" stroke-width="1.0"/>
<path d="M261.3 497.5 Q253.8 506.1 244 512" stroke-width="1.0"/>
<path d="M261.3 497.5 Q266.5 506.4 275 512.3" stroke-width="1.0"/>
<path d="M261.3 497.5 Q256.8 510.7 257.3 524.7" stroke-width="1.0"/>
<path d="M261.3 497.5 Q264.5 518.2 275 536.3" stroke-width="0.9"/>
<path d="M261.3 497.5 Q281.5 513.5 295 535.5" stroke-width="0.9"/>
<path d="M287.5 498.8 Q300.2 500.7 312.3 505" stroke-width="1.0"/>
<path d="M287.5 498.8 Q265.2 503.5 244 512" stroke-width="0.9"/>
<path d="M287.5 498.8 Q279.8 504.2 275 512.3" stroke-width="1.0"/>
<path d="M287.5 498.8 Q289.8 506.6 288 514.5" stroke-width="1.0"/>
<path d="M287.5 498.8 Q268.9 507.7 257.3 524.7" stroke-width="0.9"/>
<path d="M287.5 498.8 Q286.5 519.3 275 536.3" stroke-width="0.9"/>
<path d="M287.5 498.8 Q294.2 522.7 295 547.5" stroke-width="0.9"/>
<path d="M287.5 498.8 Q276.8 485.2 260.5 479.5" stroke-width="0.9"/>
<path d="M312.3 505 Q292.6 503.5 275 512.3" stroke-width="0.9"/>
<path d="M312.3 505 Q301.1 512.2 288 514.5" stroke-width="1.0"/>
<path d="M312.3 505 Q313.4 513.3 311 521.3" stroke-width="1.0"/>
<path d="M312.3 505 Q297.3 525.1 275 536.3" stroke-width="0.9"/>
<path d="M312.3 505 Q302.2 519.4 295 535.5" stroke-width="0.9"/>
<path d="M244 512 Q265.7 519.2 288 514.5" stroke-width="0.9"/>
<path d="M244 512 Q251.7 517.3 257.3 524.7" stroke-width="1.0"/>
<path d="M244 512 Q256.4 497.9 260.5 479.5" stroke-width="0.9"/>
<path d="M275 512.3 Q281.4 514.1 288 514.5" stroke-width="1.0"/>
<path d="M275 512.3 Q293.5 514.9 311 521.3" stroke-width="0.9"/>
<path d="M275 512.3 Q265.3 517.3 257.3 524.7" stroke-width="1.0"/>
<path d="M275 512.3 Q277.4 524.3 275 536.3" stroke-width="1.0"/>
<path d="M275 512.3 Q281.9 526.5 295 535.5" stroke-width="0.9"/>
<path d="M288 514.5 Q298.9 519.8 311 521.3" stroke-width="1.0"/>
<path d="M288 514.5 Q271.4 515.9 257.3 524.7" stroke-width="0.9"/>
<path d="M288 514.5 Q279.4 524.1 275 536.3" stroke-width="1.0"/>
<path d="M288 514.5 Q294.1 524.1 295 535.5" stroke-width="1.0"/>
<path d="M288 514.5 Q294.4 530.4 295 547.5" stroke-width="0.9"/>
<path d="M288 514.5 Q279.2 493.1 260.5 479.5" stroke-width="0.9"/>
<path d="M311 521.3 Q283.7 515.5 257.3 524.7" stroke-width="0.9"/>
<path d="M311 521.3 Q300.8 525.9 295 535.5" stroke-width="1.0"/>
<path d="M257.3 524.7 Q267.3 528.7 275 536.3" stroke-width="1.0"/>
<path d="M257.3 524.7 Q277.6 525.0 295 535.5" stroke-width="0.9"/>
<path d="M257.3 524.7 Q272.7 541.8 295 547.5" stroke-width="0.9"/>
<path d="M257.3 524.7 Q255.8 501.9 260.5 479.5" stroke-width="0.9"/>
<path d="M275 536.3 Q284.9 532.7 295 535.5" stroke-width="1.0"/>
<path d="M275 536.3 Q283.6 544.3 295 547.5" stroke-width="1.0"/>
<path d="M295 535.5 Q294.2 541.5 295 547.5" stroke-width="1.0"/>
<path d="M240 527 Q246.5 536.7 256.3 543" stroke-width="0.9"/>
<path d="M256.3 543 Q264.6 551.5 276.3 553.8" stroke-width="0.9"/>
<path d="M311.3 542.5 Q308.2 523.7 312.3 505" stroke-width="0.9"/>
<path d="M244 512 Q259.5 509.8 275 512.3" stroke-width="0.9"/>
<path d="M295 535.5 Q286.4 518.1 287.5 498.8" stroke-width="0.9"/>
<path d="M295 535.5 Q292.3 510.4 303.8 488" stroke-width="0.9"/>
</g>
<g fill="none" stroke="#22222e" stroke-width="0.9" opacity="0.85">
<circle cx="266.8" cy="385.4" r="7.3"/>
<circle cx="250.6" cy="396.4" r="7.3"/>
<circle cx="282.7" cy="393.7" r="7.3"/>
<circle cx="266.5" cy="401.8" r="7.3"/>
<circle cx="286" cy="411.3" r="7.3"/>
<circle cx="245.3" cy="418.9" r="7.3"/>
<circle cx="261.6" cy="418.5" r="7.3"/>
<circle cx="278.5" cy="427.2" r="7.3"/>
<circle cx="308" cy="399" r="7.3"/>
<circle cx="307" cy="415.5" r="7.3"/>
<circle cx="262" cy="434" r="7.3"/>
<circle cx="280.6" cy="446.5" r="7.3"/>
<circle cx="326" cy="419.7" r="7.3"/>
<circle cx="307.3" cy="383" r="7.3"/>
<circle cx="293.8" cy="431.5" r="7.3"/>
<circle cx="310.1" cy="431.2" r="7.3"/>
<circle cx="346.2" cy="433.7" r="7.3"/>
<circle cx="327.5" cy="441.5" r="7.3"/>
<circle cx="327.5" cy="457.5" r="7.3"/>
<circle cx="281.3" cy="480.5" r="7.3"/>
<circle cx="287.5" cy="498.8" r="7.3"/>
<circle cx="275" cy="512.3" r="7.3"/>
<circle cx="288" cy="514.5" r="7.3"/>
<circle cx="295" cy="535.5" r="7.3"/>
</g>
<g fill="#fff">
<circle cx="240" cy="355" r="6.7" opacity="0.45"/>
<circle cx="277.5" cy="348.8" r="6.7" opacity="0.45"/>
<circle cx="319.5" cy="348.3" r="6.7" opacity="0.45"/>
<circle cx="257" cy="370" r="6.7" opacity="0.92"/>
<circle cx="273.8" cy="370" r="6.7" opacity="0.92"/>
<circle cx="292" cy="376.5" r="6.7" opacity="0.92"/>
<circle cx="323.5" cy="367" r="6.7" opacity="0.45"/>
<circle cx="307.3" cy="383" r="6.7" opacity="0.92"/>
<circle cx="266.8" cy="385.4" r="6.7" opacity="0.92"/>
<circle cx="226.3" cy="387.5" r="6.7" opacity="0.45"/>
<circle cx="250.6" cy="396.4" r="6.7" opacity="0.92"/>
<circle cx="282.7" cy="393.7" r="6.7" opacity="0.92"/>
<circle cx="266.5" cy="401.8" r="6.7" opacity="0.92"/>
<circle cx="308" cy="399" r="6.7" opacity="0.92"/>
<circle cx="324.5" cy="385.5" r="6.7" opacity="0.92"/>
<circle cx="228.7" cy="410.2" r="6.7" opacity="0.45"/>
<circle cx="286" cy="411.3" r="6.7" opacity="0.92"/>
<circle cx="245.3" cy="418.9" r="6.7" opacity="0.92"/>
<circle cx="261.6" cy="418.5" r="6.7" opacity="0.92"/>
<circle cx="307" cy="415.5" r="6.7" opacity="0.92"/>
<circle cx="221.2" cy="427.2" r="6.7" opacity="0.45"/>
<circle cx="278.5" cy="427.2" r="6.7" opacity="0.92"/>
<circle cx="326" cy="419.7" r="6.7" opacity="0.92"/>
<circle cx="293.8" cy="431.5" r="6.7" opacity="0.92"/>
<circle cx="310.1" cy="431.2" r="6.7" opacity="0.92"/>
<circle cx="262" cy="434" r="6.7" opacity="0.92"/>
<circle cx="347.5" cy="354.5" r="6.7" opacity="0.45"/>
<circle cx="367.5" cy="360" r="6.7" opacity="0.45"/>
<circle cx="342" cy="373.5" r="6.7" opacity="0.45"/>
<circle cx="361.3" cy="377.5" r="6.7" opacity="0.45"/>
<circle cx="384.5" cy="371.3" r="6.7" opacity="0.45"/>
<circle cx="374.5" cy="385" r="6.7" opacity="0.45"/>
<circle cx="365" cy="397.5" r="6.7" opacity="0.45"/>
<circle cx="383.8" cy="402.5" r="6.7" opacity="0.45"/>
<circle cx="336.2" cy="401.9" r="6.7" opacity="0.92"/>
<circle cx="358" cy="413.6" r="6.7" opacity="0.45"/>
<circle cx="342.4" cy="418" r="6.7" opacity="0.92"/>
<circle cx="379.5" cy="419.5" r="6.7" opacity="0.45"/>
<circle cx="403.8" cy="424.5" r="6.7" opacity="0.45"/>
<circle cx="346.2" cy="433.7" r="6.7" opacity="0.92"/>
<circle cx="327.5" cy="441.5" r="6.7" opacity="0.92"/>
<circle cx="310.5" cy="448.5" r="6.7" opacity="0.45"/>
<circle cx="327.5" cy="457.5" r="6.7" opacity="0.92"/>
<circle cx="343.8" cy="463.8" r="6.7" opacity="0.45"/>
<circle cx="327.5" cy="473.8" r="6.7" opacity="0.45"/>
<circle cx="310.5" cy="465.8" r="6.7" opacity="0.45"/>
<circle cx="232.5" cy="448.3" r="6.7" opacity="0.92"/>
<circle cx="250.6" cy="449.9" r="6.7" opacity="0.92"/>
<circle cx="280.6" cy="446.5" r="6.7" opacity="0.92"/>
<circle cx="270" cy="462.5" r="6.7" opacity="0.92"/>
<circle cx="292.5" cy="460" r="6.7" opacity="0.92"/>
<circle cx="387" cy="348.8" r="6.7" opacity="0.45"/>
<circle cx="408" cy="356.5" r="6.7" opacity="0.45"/>
<circle cx="412.5" cy="375.5" r="6.7" opacity="0.45"/>
<circle cx="435.3" cy="362" r="6.7" opacity="0.45"/>
<circle cx="436.5" cy="378" r="6.7" opacity="0.45"/>
<circle cx="456.3" cy="369.5" r="6.7" opacity="0.45"/>
<circle cx="471.3" cy="384.3" r="6.7" opacity="0.45"/>
<circle cx="453.8" cy="390.5" r="6.7" opacity="0.45"/>
<circle cx="422.3" cy="403.8" r="6.7" opacity="0.45"/>
<circle cx="407.3" cy="405.9" r="6.7" opacity="0.45"/>
<circle cx="438.5" cy="404.5" r="6.7" opacity="0.45"/>
<circle cx="465" cy="402.5" r="6.7" opacity="0.45"/>
<circle cx="489.5" cy="397.5" r="6.7" opacity="0.45"/>
<circle cx="478.3" cy="412.5" r="6.7" opacity="0.45"/>
<circle cx="433.3" cy="419.8" r="6.7" opacity="0.45"/>
<circle cx="490.8" cy="424" r="6.7" opacity="0.45"/>
<circle cx="451.3" cy="431.3" r="6.7" opacity="0.45"/>
<circle cx="472.2" cy="429.3" r="6.7" opacity="0.45"/>
<circle cx="420.5" cy="436.5" r="6.7" opacity="0.45"/>
<circle cx="437" cy="439.3" r="6.7" opacity="0.45"/>
<circle cx="486.3" cy="439.5" r="6.7" opacity="0.45"/>
<circle cx="449.5" cy="451.3" r="6.7" opacity="0.45"/>
<circle cx="467.5" cy="450.5" r="6.7" opacity="0.45"/>
<circle cx="498.8" cy="453" r="6.7" opacity="0.45"/>
<circle cx="485" cy="458.8" r="6.7" opacity="0.45"/>
<circle cx="463.8" cy="467" r="6.7" opacity="0.45"/>
<circle cx="479.5" cy="477" r="6.7" opacity="0.45"/>
<circle cx="457.5" cy="483.8" r="6.7" opacity="0.45"/>
<circle cx="475" cy="492.5" r="6.7" opacity="0.45"/>
<circle cx="450" cy="507.5" r="6.7" opacity="0.45"/>
<circle cx="468.8" cy="511.3" r="6.7" opacity="0.45"/>
<circle cx="464.5" cy="527.5" r="6.7" opacity="0.45"/>
<circle cx="360.5" cy="447.5" r="6.7" opacity="0.45"/>
<circle cx="385.5" cy="437.5" r="6.7" opacity="0.45"/>
<circle cx="402.5" cy="443" r="6.7" opacity="0.45"/>
<circle cx="373.8" cy="463.8" r="6.7" opacity="0.45"/>
<circle cx="392" cy="462.5" r="6.7" opacity="0.45"/>
<circle cx="418" cy="461.3" r="6.7" opacity="0.45"/>
<circle cx="355" cy="476.3" r="6.7" opacity="0.45"/>
<circle cx="385" cy="480" r="6.7" opacity="0.45"/>
<circle cx="406" cy="478.8" r="6.7" opacity="0.45"/>
<circle cx="422.3" cy="476.3" r="6.7" opacity="0.45"/>
<circle cx="437.5" cy="477.5" r="6.7" opacity="0.45"/>
<circle cx="345.8" cy="483.8" r="6.7" opacity="0.45"/>
<circle cx="363.8" cy="485.8" r="6.7" opacity="0.45"/>
<circle cx="355" cy="498" r="6.7" opacity="0.45"/>
<circle cx="403" cy="500.3" r="6.7" opacity="0.45"/>
<circle cx="426.5" cy="501" r="6.7" opacity="0.45"/>
<circle cx="381.3" cy="507" r="6.7" opacity="0.45"/>
<circle cx="360" cy="512.5" r="6.7" opacity="0.45"/>
<circle cx="363.8" cy="527.7" r="6.7" opacity="0.45"/>
<circle cx="393.8" cy="525.2" r="6.7" opacity="0.45"/>
<circle cx="407.3" cy="525.2" r="6.7" opacity="0.45"/>
<circle cx="427.2" cy="527.3" r="6.7" opacity="0.45"/>
<circle cx="439" cy="518.8" r="6.7" opacity="0.45"/>
<circle cx="377.5" cy="532.7" r="6.7" opacity="0.45"/>
<circle cx="387.5" cy="542" r="6.7" opacity="0.45"/>
<circle cx="416.3" cy="547" r="6.7" opacity="0.45"/>
<circle cx="401.3" cy="555" r="6.7" opacity="0.45"/>
<circle cx="240.8" cy="468" r="6.7" opacity="0.45"/>
<circle cx="260.5" cy="479.5" r="6.7" opacity="0.45"/>
<circle cx="281.3" cy="480.5" r="6.7" opacity="0.92"/>
<circle cx="240" cy="487.5" r="6.7" opacity="0.45"/>
<circle cx="303.8" cy="488" r="6.7" opacity="0.92"/>
<circle cx="321.3" cy="490.2" r="6.7" opacity="0.45"/>
<circle cx="261.3" cy="497.5" r="6.7" opacity="0.92"/>
<circle cx="287.5" cy="498.8" r="6.7" opacity="0.92"/>
<circle cx="312.3" cy="505" r="6.7" opacity="0.92"/>
<circle cx="244" cy="512" r="6.7" opacity="0.45"/>
<circle cx="275" cy="512.3" r="6.7" opacity="0.92"/>
<circle cx="288" cy="514.5" r="6.7" opacity="0.92"/>
<circle cx="311" cy="521.3" r="6.7" opacity="0.45"/>
<circle cx="240" cy="527" r="6.7" opacity="0.45"/>
<circle cx="257.3" cy="524.7" r="6.7" opacity="0.45"/>
<circle cx="275" cy="536.3" r="6.7" opacity="0.92"/>
<circle cx="295" cy="535.5" r="6.7" opacity="0.92"/>
<circle cx="256.3" cy="543" r="6.7" opacity="0.45"/>
<circle cx="311.3" cy="542.5" r="6.7" opacity="0.45"/>
<circle cx="295" cy="547.5" r="6.7" opacity="0.45"/>
<circle cx="276.3" cy="553.8" r="6.7" opacity="0.45"/>
<circle cx="327.7" cy="514.7" r="6.7" opacity="0.45"/>
<circle cx="334.6" cy="537" r="6.7" opacity="0.45"/>
<circle cx="323.8" cy="553.5" r="6.7" opacity="0.45"/>
<circle cx="352" cy="544" r="6.7" opacity="0.45"/>
<circle cx="365.3" cy="556.5" r="6.7" opacity="0.45"/>
</g>
<g stroke="#2e2e2e" stroke-width="0.8">
<circle cx="240" cy="355" r="5.65" fill="#8fb6dc"/>
<circle cx="277.5" cy="348.8" r="5.65" fill="#8fb6dc"/>
<circle cx="319.5" cy="348.3" r="5.65" fill="#8fb6dc"/>
<circle cx="257" cy="370" r="5.65" fill="#8fb6dc"/>
<circle cx="273.8" cy="370" r="5.65" fill="#8fb6dc"/>
<circle cx="292" cy="376.5" r="5.65" fill="#8fb6dc"/>
<circle cx="323.5" cy="367" r="5.65" fill="#8fb6dc"/>
<circle cx="307.3" cy="383" r="5.65" fill="#8fb6dc"/>
<circle cx="266.8" cy="385.4" r="5.65" fill="#9bd397"/>
<circle cx="226.3" cy="387.5" r="5.65" fill="#8fb6dc"/>
<circle cx="250.6" cy="396.4" r="5.65" fill="#ee7a80"/>
<circle cx="282.7" cy="393.7" r="5.65" fill="#ee7a80"/>
<circle cx="266.5" cy="401.8" r="5.65" fill="#ee7a80"/>
<circle cx="308" cy="399" r="5.65" fill="#8fb6dc"/>
<circle cx="324.5" cy="385.5" r="5.65" fill="#8fb6dc"/>
<circle cx="228.7" cy="410.2" r="5.65" fill="#8fb6dc"/>
<circle cx="286" cy="411.3" r="5.65" fill="#ee7a80"/>
<circle cx="245.3" cy="418.9" r="5.65" fill="#ee7a80"/>
<circle cx="261.6" cy="418.5" r="5.65" fill="#ee7a80"/>
<circle cx="307" cy="415.5" r="5.65" fill="#8fb6dc"/>
<circle cx="221.2" cy="427.2" r="5.65" fill="#ee7a80"/>
<circle cx="278.5" cy="427.2" r="5.65" fill="#ee7a80"/>
<circle cx="326" cy="419.7" r="5.65" fill="#ee7a80"/>
<circle cx="293.8" cy="431.5" r="5.65" fill="#8fb6dc"/>
<circle cx="310.1" cy="431.2" r="5.65" fill="#8fb6dc"/>
<circle cx="262" cy="434" r="5.65" fill="#8fb6dc"/>
<circle cx="347.5" cy="354.5" r="5.65" fill="#8fb6dc"/>
<circle cx="367.5" cy="360" r="5.65" fill="#9bd397"/>
<circle cx="342" cy="373.5" r="5.65" fill="#ee7a80"/>
<circle cx="361.3" cy="377.5" r="5.65" fill="#8fb6dc"/>
<circle cx="384.5" cy="371.3" r="5.65" fill="#9bd397"/>
<circle cx="374.5" cy="385" r="5.65" fill="#8fb6dc"/>
<circle cx="365" cy="397.5" r="5.65" fill="#8fb6dc"/>
<circle cx="383.8" cy="402.5" r="5.65" fill="#9bd397"/>
<circle cx="336.2" cy="401.9" r="5.65" fill="#8fb6dc"/>
<circle cx="358" cy="413.6" r="5.65" fill="#ee7a80"/>
<circle cx="342.4" cy="418" r="5.65" fill="#8fb6dc"/>
<circle cx="379.5" cy="419.5" r="5.65" fill="#9bd397"/>
<circle cx="403.8" cy="424.5" r="5.65" fill="#8fb6dc"/>
<circle cx="346.2" cy="433.7" r="5.65" fill="#ee7a80"/>
<circle cx="327.5" cy="441.5" r="5.65" fill="#ee7a80"/>
<circle cx="310.5" cy="448.5" r="5.65" fill="#8fb6dc"/>
<circle cx="327.5" cy="457.5" r="5.65" fill="#ee7a80"/>
<circle cx="343.8" cy="463.8" r="5.65" fill="#ee7a80"/>
<circle cx="327.5" cy="473.8" r="5.65" fill="#ee7a80"/>
<circle cx="310.5" cy="465.8" r="5.65" fill="#8fb6dc"/>
<circle cx="232.5" cy="448.3" r="5.65" fill="#ee7a80"/>
<circle cx="250.6" cy="449.9" r="5.65" fill="#8fb6dc"/>
<circle cx="280.6" cy="446.5" r="5.65" fill="#8fb6dc"/>
<circle cx="270" cy="462.5" r="5.65" fill="#ee7a80"/>
<circle cx="292.5" cy="460" r="5.65" fill="#8fb6dc"/>
<circle cx="387" cy="348.8" r="5.65" fill="#9bd397"/>
<circle cx="408" cy="356.5" r="5.65" fill="#9bd397"/>
<circle cx="412.5" cy="375.5" r="5.65" fill="#9bd397"/>
<circle cx="435.3" cy="362" r="5.65" fill="#9bd397"/>
<circle cx="436.5" cy="378" r="5.65" fill="#9bd397"/>
<circle cx="456.3" cy="369.5" r="5.65" fill="#9bd397"/>
<circle cx="471.3" cy="384.3" r="5.65" fill="#9bd397"/>
<circle cx="453.8" cy="390.5" r="5.65" fill="#9bd397"/>
<circle cx="422.3" cy="403.8" r="5.65" fill="#9bd397"/>
<circle cx="407.3" cy="405.9" r="5.65" fill="#9bd397"/>
<circle cx="438.5" cy="404.5" r="5.65" fill="#9bd397"/>
<circle cx="465" cy="402.5" r="5.65" fill="#9bd397"/>
<circle cx="489.5" cy="397.5" r="5.65" fill="#9bd397"/>
<circle cx="478.3" cy="412.5" r="5.65" fill="#9bd397"/>
<circle cx="433.3" cy="419.8" r="5.65" fill="#9bd397"/>
<circle cx="490.8" cy="424" r="5.65" fill="#9bd397"/>
<circle cx="451.3" cy="431.3" r="5.65" fill="#9bd397"/>
<circle cx="472.2" cy="429.3" r="5.65" fill="#9bd397"/>
<circle cx="420.5" cy="436.5" r="5.65" fill="#9bd397"/>
<circle cx="437" cy="439.3" r="5.65" fill="#9bd397"/>
<circle cx="486.3" cy="439.5" r="5.65" fill="#9bd397"/>
<circle cx="449.5" cy="451.3" r="5.65" fill="#9bd397"/>
<circle cx="467.5" cy="450.5" r="5.65" fill="#9bd397"/>
<circle cx="498.8" cy="453" r="5.65" fill="#ee7a80"/>
<circle cx="485" cy="458.8" r="5.65" fill="#ee7a80"/>
<circle cx="463.8" cy="467" r="5.65" fill="#9bd397"/>
<circle cx="479.5" cy="477" r="5.65" fill="#ee7a80"/>
<circle cx="457.5" cy="483.8" r="5.65" fill="#9bd397"/>
<circle cx="475" cy="492.5" r="5.65" fill="#9bd397"/>
<circle cx="450" cy="507.5" r="5.65" fill="#ee7a80"/>
<circle cx="468.8" cy="511.3" r="5.65" fill="#ee7a80"/>
<circle cx="464.5" cy="527.5" r="5.65" fill="#8fb6dc"/>
<circle cx="360.5" cy="447.5" r="5.65" fill="#9bd397"/>
<circle cx="385.5" cy="437.5" r="5.65" fill="#9bd397"/>
<circle cx="402.5" cy="443" r="5.65" fill="#ee7a80"/>
<circle cx="373.8" cy="463.8" r="5.65" fill="#ee7a80"/>
<circle cx="392" cy="462.5" r="5.65" fill="#ee7a80"/>
<circle cx="418" cy="461.3" r="5.65" fill="#ee7a80"/>
<circle cx="355" cy="476.3" r="5.65" fill="#9bd397"/>
<circle cx="385" cy="480" r="5.65" fill="#9bd397"/>
<circle cx="406" cy="478.8" r="5.65" fill="#9bd397"/>
<circle cx="422.3" cy="476.3" r="5.65" fill="#ee7a80"/>
<circle cx="437.5" cy="477.5" r="5.65" fill="#9bd397"/>
<circle cx="345.8" cy="483.8" r="5.65" fill="#9bd397"/>
<circle cx="363.8" cy="485.8" r="5.65" fill="#9bd397"/>
<circle cx="355" cy="498" r="5.65" fill="#9bd397"/>
<circle cx="403" cy="500.3" r="5.65" fill="#ee7a80"/>
<circle cx="426.5" cy="501" r="5.65" fill="#ee7a80"/>
<circle cx="381.3" cy="507" r="5.65" fill="#9bd397"/>
<circle cx="360" cy="512.5" r="5.65" fill="#9bd397"/>
<circle cx="363.8" cy="527.7" r="5.65" fill="#9bd397"/>
<circle cx="393.8" cy="525.2" r="5.65" fill="#9bd397"/>
<circle cx="407.3" cy="525.2" r="5.65" fill="#9bd397"/>
<circle cx="427.2" cy="527.3" r="5.65" fill="#9bd397"/>
<circle cx="439" cy="518.8" r="5.65" fill="#ee7a80"/>
<circle cx="377.5" cy="532.7" r="5.65" fill="#9bd397"/>
<circle cx="387.5" cy="542" r="5.65" fill="#8fb6dc"/>
<circle cx="416.3" cy="547" r="5.65" fill="#9bd397"/>
<circle cx="401.3" cy="555" r="5.65" fill="#9bd397"/>
<circle cx="240.8" cy="468" r="5.65" fill="#9bd397"/>
<circle cx="260.5" cy="479.5" r="5.65" fill="#ee7a80"/>
<circle cx="281.3" cy="480.5" r="5.65" fill="#8fb6dc"/>
<circle cx="240" cy="487.5" r="5.65" fill="#9bd397"/>
<circle cx="303.8" cy="488" r="5.65" fill="#8fb6dc"/>
<circle cx="321.3" cy="490.2" r="5.65" fill="#8fb6dc"/>
<circle cx="261.3" cy="497.5" r="5.65" fill="#8fb6dc"/>
<circle cx="287.5" cy="498.8" r="5.65" fill="#8fb6dc"/>
<circle cx="312.3" cy="505" r="5.65" fill="#8fb6dc"/>
<circle cx="244" cy="512" r="5.65" fill="#8fb6dc"/>
<circle cx="275" cy="512.3" r="5.65" fill="#ee7a80"/>
<circle cx="288" cy="514.5" r="5.65" fill="#8fb6dc"/>
<circle cx="311" cy="521.3" r="5.65" fill="#9bd397"/>
<circle cx="240" cy="527" r="5.65" fill="#9bd397"/>
<circle cx="257.3" cy="524.7" r="5.65" fill="#ee7a80"/>
<circle cx="275" cy="536.3" r="5.65" fill="#8fb6dc"/>
<circle cx="295" cy="535.5" r="5.65" fill="#8fb6dc"/>
<circle cx="256.3" cy="543" r="5.65" fill="#9bd397"/>
<circle cx="311.3" cy="542.5" r="5.65" fill="#ee7a80"/>
<circle cx="295" cy="547.5" r="5.65" fill="#8fb6dc"/>
<circle cx="276.3" cy="553.8" r="5.65" fill="#9bd397"/>
<circle cx="327.7" cy="514.7" r="5.65" fill="#8fb6dc"/>
<circle cx="334.6" cy="537" r="5.65" fill="#9bd397"/>
<circle cx="323.8" cy="553.5" r="5.65" fill="#9bd397"/>
<circle cx="352" cy="544" r="5.65" fill="#ee7a80"/>
<circle cx="365.3" cy="556.5" r="5.65" fill="#9bd397"/>
</g>
<g font-size="3.4" text-anchor="middle" fill="#333" stroke="#fff" stroke-width="0.9" stroke-opacity="0.8" paint-order="stroke" font-family="Liberation Sans, sans-serif">
<text x="240" y="356.2">PRPF3</text>
<text x="277.5" y="350.1">PNN</text>
<text x="319.5" y="349.6">SON</text>
<text x="257" y="371.2">SRRM1</text>
<text x="273.8" y="371.2">PRPF4B</text>
<text x="292" y="377.8">SRSF8</text>
<text x="323.5" y="368.2">RBM25</text>
<text x="307.3" y="384.2">SRSF6</text>
<text x="266.8" y="386.6">PHF5A</text>
<text x="226.3" y="388.8">CCDC9</text>
<text x="250.6" y="397.6">SNRNP200</text>
<text x="282.7" y="394.9">SF3B1</text>
<text x="266.5" y="403.1">PRPF8</text>
<text x="308" y="400.2">CLK3</text>
<text x="324.5" y="386.8">SRSF4</text>
<text x="228.7" y="411.4">CHERP</text>
<text x="286" y="412.6">SNRNP70</text>
<text x="245.3" y="420.1">EFTUD2</text>
<text x="261.6" y="419.8">SF3B2</text>
<text x="307" y="416.8">SRSF2</text>
<text x="221.2" y="428.4">LSM7</text>
<text x="278.5" y="428.4">SF3B3</text>
<text x="326" y="420.9">HNRNPM</text>
<text x="293.8" y="432.8">SRSF9</text>
<text x="310.1" y="432.4">TRA2B</text>
<text x="262" y="435.2">SNRPA</text>
<text x="347.5" y="355.8">RBM17</text>
<text x="367.5" y="361.2">SRRM2</text>
<text x="342" y="374.8">LUC7L3</text>
<text x="361.3" y="378.8">RBM15B</text>
<text x="384.5" y="372.6">NONO</text>
<text x="374.5" y="386.2">RBMX</text>
<text x="365" y="398.8">SNORA4</text>
<text x="383.8" y="403.8">MATR3</text>
<text x="336.2" y="403.1">SRSF3</text>
<text x="358" y="414.9">DDX5</text>
<text x="342.4" y="419.2">SRSF7</text>
<text x="379.5" y="420.8">H2AB1</text>
<text x="403.8" y="425.8">NBS1</text>
<text x="346.2" y="434.9">HNRNPC</text>
<text x="327.5" y="442.8">HNRNPA0</text>
<text x="310.5" y="449.8">SRSF10</text>
<text x="327.5" y="458.8">HNRNPF</text>
<text x="343.8" y="465.1">HNRNPUL1</text>
<text x="327.5" y="475.1">SYNCRIP</text>
<text x="310.5" y="467.1">SRSF1</text>
<text x="232.5" y="449.6">RPS15</text>
<text x="250.6" y="451.1">EIF4G1</text>
<text x="280.6" y="447.8">SNRPD3</text>
<text x="270" y="463.8">DHX15</text>
<text x="292.5" y="461.2">SRSF11</text>
<text x="387" y="350.1">DDX39</text>
<text x="408" y="357.8">HDAC</text>
<text x="412.5" y="376.8">HES1</text>
<text x="435.3" y="363.2">LDT1</text>
<text x="436.5" y="379.2">LDT2</text>
<text x="456.3" y="370.8">TMOD3</text>
<text x="471.3" y="385.6">ADD1</text>
<text x="453.8" y="391.8">GNAI3</text>
<text x="422.3" y="405.1">LYN</text>
<text x="407.3" y="407.1">FYN</text>
<text x="438.5" y="405.8">GNAI2</text>
<text x="465" y="403.8">GNB2</text>
<text x="489.5" y="398.8">PDS5B</text>
<text x="478.3" y="413.8">GNG12</text>
<text x="433.3" y="421.1">GNAI1</text>
<text x="490.8" y="425.2">PDS5A</text>
<text x="451.3" y="432.6">GNB1</text>
<text x="472.2" y="430.6">GNB4</text>
<text x="420.5" y="437.8">CTR9</text>
<text x="437" y="440.6">PRMT5</text>
<text x="486.3" y="440.8">SPTBN1</text>
<text x="449.5" y="452.6">APP</text>
<text x="467.5" y="451.8">SPTAN1</text>
<text x="498.8" y="454.2">TUBB4A</text>
<text x="485" y="460.1">TUBA1C</text>
<text x="463.8" y="468.2">SPTBN2</text>
<text x="479.5" y="478.2">TUBB6</text>
<text x="457.5" y="485.1">MYO1C</text>
<text x="475" y="493.8">MYO18</text>
<text x="450" y="508.8">DNAJA2</text>
<text x="468.8" y="512.5">ICAM1</text>
<text x="464.5" y="528.8">TNF10</text>
<text x="360.5" y="448.8">CDC5L</text>
<text x="385.5" y="438.8">HMT</text>
<text x="402.5" y="444.2">SRC1</text>
<text x="373.8" y="465.1">RUVBL2</text>
<text x="392" y="463.8">RUVBL1</text>
<text x="418" y="462.6">HDAC10</text>
<text x="355" y="477.6">SIRT1</text>
<text x="385" y="481.2">AURKA</text>
<text x="406" y="480.1">EZH2</text>
<text x="422.3" y="477.6">STIP1</text>
<text x="437.5" y="478.8">LRP1</text>
<text x="345.8" y="485.1">BRD4</text>
<text x="363.8" y="487.1">MYC</text>
<text x="355" y="499.2">NANOG</text>
<text x="403" y="501.6">HSP90AA1</text>
<text x="426.5" y="502.2">DNAJA1</text>
<text x="381.3" y="508.2">TP53</text>
<text x="360" y="513.8">SQSTM1</text>
<text x="363.8" y="529.0">SKP2</text>
<text x="393.8" y="526.5">RAD51</text>
<text x="407.3" y="526.5">CDK1</text>
<text x="427.2" y="528.5">PLK1</text>
<text x="439" y="520.0">STUB1</text>
<text x="377.5" y="534.0">NBN</text>
<text x="387.5" y="543.2">TOP2A</text>
<text x="416.3" y="548.2">RBC</text>
<text x="401.3" y="556.2">MKI67</text>
<text x="240.8" y="469.2">EEF1D</text>
<text x="260.5" y="480.8">EIF3A</text>
<text x="281.3" y="481.8">NOP58</text>
<text x="240" y="488.8">RPL3</text>
<text x="303.8" y="489.2">UTP20</text>
<text x="321.3" y="491.4">NCL</text>
<text x="261.3" y="498.8">RPL36</text>
<text x="287.5" y="500.1">NOC2L</text>
<text x="312.3" y="506.2">DKC1</text>
<text x="244" y="513.2">RPL5</text>
<text x="275" y="513.5">RPS6</text>
<text x="288" y="515.8">NOP2</text>
<text x="311" y="522.5">FBL</text>
<text x="240" y="528.2">WDR1</text>
<text x="257.3" y="526.0">RPL37A</text>
<text x="275" y="537.5">EMG1</text>
<text x="295" y="536.8">UTP14A</text>
<text x="256.3" y="544.2">CAP2B</text>
<text x="311.3" y="543.8">TCOF1</text>
<text x="295" y="548.8">SMN1</text>
<text x="276.3" y="555.0">CAPZA1</text>
<text x="327.7" y="516.0">TBL3</text>
<text x="334.6" y="538.2">PPP1R10A</text>
<text x="323.8" y="554.8">NPM3</text>
<text x="352" y="545.2">IQGAP1</text>
<text x="365.3" y="557.8">RAC1</text>
</g>
<text transform="translate(278.6 576.8) scale(0.8950 1)" font-size="6.6" fill="#383838">Nodes</text>
<circle cx="281.5" cy="583.4" r="3.1" fill="#ee7a80" stroke="#2a2a2a" stroke-width="0.9"/>
<text transform="translate(287.6 585.9) scale(0.8950 1)" font-size="6.6" fill="#383838">Maiolica 2014 – Affinity MS</text>
<circle cx="281.5" cy="593.6" r="3.1" fill="#9bd397" stroke="#2a2a2a" stroke-width="0.9"/>
<text transform="translate(287.6 596.1) scale(0.8950 1)" font-size="6.6" fill="#383838">BIOGRID</text>
<circle cx="281.5" cy="603" r="3.1" fill="#8fb6dc" stroke="#2a2a2a" stroke-width="0.9"/>
<text transform="translate(287.6 605.5) scale(0.8950 1)" font-size="6.6" fill="#383838">Inferred 90<tspan font-size="4" dy="-2.4">th</tspan><tspan dy="2.4"> percentile substrates</tspan></text>
<text transform="translate(383.6 576.8) scale(0.8950 1)" font-size="6.6" fill="#383838">Regions</text>
<circle cx="387.2" cy="583.8" r="3.1" fill="#fbd6b8" stroke="#2a2a2a" stroke-width="0.9"/>
<text transform="translate(392.6 586.3) scale(0.8950 1)" font-size="6.6" fill="#383838">RNA Splicing</text>
<circle cx="387.2" cy="593.4" r="3.1" fill="#dccbe6" stroke="#2a2a2a" stroke-width="0.9"/>
<text transform="translate(392.6 595.9) scale(0.8950 1)" font-size="6.6" fill="#383838">Transcription</text>
<circle cx="387.2" cy="603" r="3.1" fill="#fdf2b4" stroke="#2a2a2a" stroke-width="0.9"/>
<text transform="translate(392.6 605.5) scale(0.8950 1)" font-size="6.6" fill="#383838">Cell Cycle</text>
</g>
<rect x="0.5" y="0.5" width="519" height="629" fill="none" stroke="#555" stroke-width="1"/>
</svg>
</body></html>
